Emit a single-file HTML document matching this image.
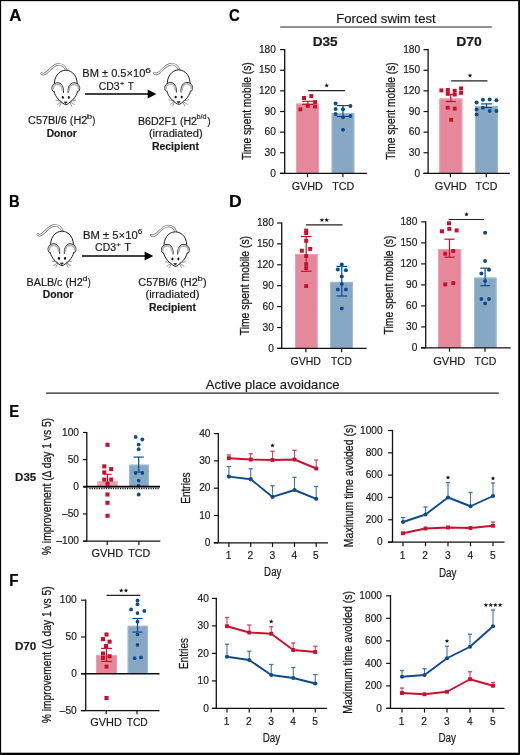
<!DOCTYPE html>
<html><head><meta charset="utf-8"><style>
html,body{margin:0;padding:0;background:#fff;}
body{width:520px;height:755px;overflow:hidden;position:relative;font-family:"Liberation Sans", sans-serif;}
svg{display:block;position:absolute;left:0;top:0;will-change:transform;}
.frame{position:absolute;left:0;top:0;width:520px;height:755px;box-sizing:border-box;border-top:1px solid #000;border-left:1px solid #000;border-right:2px solid #000;border-bottom:2px solid #000;}
</style></head><body>
<svg width="520" height="755" viewBox="0 0 520 755" font-family='"Liberation Sans", sans-serif'>
<rect width="520" height="755" fill="#fff"/>
<text x="9.18" y="20.9" font-size="15.8" font-weight="bold" textLength="12.16" lengthAdjust="spacingAndGlyphs" fill="#000" stroke="#000" stroke-width="0.18">A</text>
<text x="9.11" y="207" font-size="15.8" font-weight="bold" textLength="10.66" lengthAdjust="spacingAndGlyphs" fill="#000" stroke="#000" stroke-width="0.18">B</text>
<text x="228.89" y="21.4" font-size="15.8" font-weight="bold" textLength="10.82" lengthAdjust="spacingAndGlyphs" fill="#000" stroke="#000" stroke-width="0.18">C</text>
<text x="228.92" y="207" font-size="15.8" font-weight="bold" textLength="12.72" lengthAdjust="spacingAndGlyphs" fill="#000" stroke="#000" stroke-width="0.18">D</text>
<text x="9.31" y="416.7" font-size="15.8" font-weight="bold" textLength="9.87" lengthAdjust="spacingAndGlyphs" fill="#000" stroke="#000" stroke-width="0.18">E</text>
<text x="9.28" y="585.9" font-size="15.8" font-weight="bold" textLength="9.27" lengthAdjust="spacingAndGlyphs" fill="#000" stroke="#000" stroke-width="0.18">F</text>
<g transform="translate(65.8,105)" fill="none" stroke-linejoin="round" stroke-linecap="round">
<path d="M -24.3,-31.6 C -23.2,-30.4 -21.2,-30.6 -19,-32.6 C -15.5,-35.8 -12.5,-39.8 -8,-40.5 C -4.5,-41 -1.2,-38.6 0.5,-35" stroke="#6e6e6e" stroke-width="2.4"/>
<path d="M -24.3,-31.6 C -23.2,-30.4 -21.2,-30.6 -19,-32.6 C -15.5,-35.8 -12.5,-39.8 -8,-40.5 C -4.5,-41 -1.2,-38.6 0.5,-35" stroke="#f8f8f8" stroke-width="1.1"/>
<path d="M -11.2,-19 C -12.6,-27.5 -7,-34.8 0,-34.8 C 7,-34.8 12.6,-27.5 11.2,-19" fill="#fff" stroke="#1e1e1e" stroke-width="1"/>
<path d="M -11.8,-13.5 C -10.4,-7.6 -5.6,-3.4 -1.3,-0.7 Q 0,0.3 1.3,-0.7 C 5.6,-3.4 10.4,-7.6 11.8,-13.5 L 8,-20 L -8,-20 Z" fill="#fff" stroke="none"/>
<path d="M -11.8,-13.5 C -10.4,-7.6 -5.6,-3.4 -1.3,-0.7 Q 0,0.3 1.3,-0.7 C 5.6,-3.4 10.4,-7.6 11.8,-13.5" stroke="#1e1e1e" stroke-width="1"/>
<path d="M -2.3,-12.6 C -1.9,-18.5 -4.6,-22.2 -8,-22.2 C -11.8,-22.2 -14.2,-19.4 -13.9,-16.2 C -13.7,-14.4 -12.8,-13.4 -11.8,-13.5" fill="#fff" stroke="#1e1e1e" stroke-width="1"/>
<path d="M -3.3,-14.6 C -3.5,-18.6 -5.8,-20.7 -8.2,-20.7 C -11,-20.7 -12.9,-18.7 -12.8,-16.2" stroke="#b4b4b4" stroke-width="1.7"/>
<ellipse cx="-3" cy="-7.6" rx="1.05" ry="1.45" fill="#111" stroke="none"/>
<path d="M -4.6,-3.8 L -9.8,-4.8" stroke="#555" stroke-width="0.6"/>
<path d="M -4.6,-3 L -8.6,-0.4" stroke="#555" stroke-width="0.6"/>
<path d="M -4.2,-2.4 L -6.2,1.3" stroke="#555" stroke-width="0.6"/>
<path d="M 2.3,-12.6 C 1.9,-18.5 4.6,-22.2 8,-22.2 C 11.8,-22.2 14.2,-19.4 13.9,-16.2 C 13.7,-14.4 12.8,-13.4 11.8,-13.5" fill="#fff" stroke="#1e1e1e" stroke-width="1"/>
<path d="M 3.3,-14.6 C 3.5,-18.6 5.8,-20.7 8.2,-20.7 C 11,-20.7 12.9,-18.7 12.8,-16.2" stroke="#b4b4b4" stroke-width="1.7"/>
<ellipse cx="3" cy="-7.6" rx="1.05" ry="1.45" fill="#111" stroke="none"/>
<path d="M 4.6,-3.8 L 9.8,-4.8" stroke="#555" stroke-width="0.6"/>
<path d="M 4.6,-3 L 8.6,-0.4" stroke="#555" stroke-width="0.6"/>
<path d="M 4.2,-2.4 L 6.2,1.3" stroke="#555" stroke-width="0.6"/>
<path d="M -1.3,-3.1 L 1.3,-3.1 L 0,-1.5 Z" fill="#111" stroke="#111" stroke-width="0.6"/>
</g>
<g transform="translate(178.7,104.7)" fill="none" stroke-linejoin="round" stroke-linecap="round">
<path d="M -24.3,-31.6 C -23.2,-30.4 -21.2,-30.6 -19,-32.6 C -15.5,-35.8 -12.5,-39.8 -8,-40.5 C -4.5,-41 -1.2,-38.6 0.5,-35" stroke="#6e6e6e" stroke-width="2.4"/>
<path d="M -24.3,-31.6 C -23.2,-30.4 -21.2,-30.6 -19,-32.6 C -15.5,-35.8 -12.5,-39.8 -8,-40.5 C -4.5,-41 -1.2,-38.6 0.5,-35" stroke="#f8f8f8" stroke-width="1.1"/>
<path d="M -11.2,-19 C -12.6,-27.5 -7,-34.8 0,-34.8 C 7,-34.8 12.6,-27.5 11.2,-19" fill="#fff" stroke="#1e1e1e" stroke-width="1"/>
<path d="M -11.8,-13.5 C -10.4,-7.6 -5.6,-3.4 -1.3,-0.7 Q 0,0.3 1.3,-0.7 C 5.6,-3.4 10.4,-7.6 11.8,-13.5 L 8,-20 L -8,-20 Z" fill="#fff" stroke="none"/>
<path d="M -11.8,-13.5 C -10.4,-7.6 -5.6,-3.4 -1.3,-0.7 Q 0,0.3 1.3,-0.7 C 5.6,-3.4 10.4,-7.6 11.8,-13.5" stroke="#1e1e1e" stroke-width="1"/>
<path d="M -2.3,-12.6 C -1.9,-18.5 -4.6,-22.2 -8,-22.2 C -11.8,-22.2 -14.2,-19.4 -13.9,-16.2 C -13.7,-14.4 -12.8,-13.4 -11.8,-13.5" fill="#fff" stroke="#1e1e1e" stroke-width="1"/>
<path d="M -3.3,-14.6 C -3.5,-18.6 -5.8,-20.7 -8.2,-20.7 C -11,-20.7 -12.9,-18.7 -12.8,-16.2" stroke="#b4b4b4" stroke-width="1.7"/>
<ellipse cx="-3" cy="-7.6" rx="1.05" ry="1.45" fill="#111" stroke="none"/>
<path d="M -4.6,-3.8 L -9.8,-4.8" stroke="#555" stroke-width="0.6"/>
<path d="M -4.6,-3 L -8.6,-0.4" stroke="#555" stroke-width="0.6"/>
<path d="M -4.2,-2.4 L -6.2,1.3" stroke="#555" stroke-width="0.6"/>
<path d="M 2.3,-12.6 C 1.9,-18.5 4.6,-22.2 8,-22.2 C 11.8,-22.2 14.2,-19.4 13.9,-16.2 C 13.7,-14.4 12.8,-13.4 11.8,-13.5" fill="#fff" stroke="#1e1e1e" stroke-width="1"/>
<path d="M 3.3,-14.6 C 3.5,-18.6 5.8,-20.7 8.2,-20.7 C 11,-20.7 12.9,-18.7 12.8,-16.2" stroke="#b4b4b4" stroke-width="1.7"/>
<ellipse cx="3" cy="-7.6" rx="1.05" ry="1.45" fill="#111" stroke="none"/>
<path d="M 4.6,-3.8 L 9.8,-4.8" stroke="#555" stroke-width="0.6"/>
<path d="M 4.6,-3 L 8.6,-0.4" stroke="#555" stroke-width="0.6"/>
<path d="M 4.2,-2.4 L 6.2,1.3" stroke="#555" stroke-width="0.6"/>
<path d="M -1.3,-3.1 L 1.3,-3.1 L 0,-1.5 Z" fill="#111" stroke="#111" stroke-width="0.6"/>
</g>
<g transform="translate(62,266)" fill="none" stroke-linejoin="round" stroke-linecap="round">
<path d="M -24.3,-31.6 C -23.2,-30.4 -21.2,-30.6 -19,-32.6 C -15.5,-35.8 -12.5,-39.8 -8,-40.5 C -4.5,-41 -1.2,-38.6 0.5,-35" stroke="#6e6e6e" stroke-width="2.4"/>
<path d="M -24.3,-31.6 C -23.2,-30.4 -21.2,-30.6 -19,-32.6 C -15.5,-35.8 -12.5,-39.8 -8,-40.5 C -4.5,-41 -1.2,-38.6 0.5,-35" stroke="#f8f8f8" stroke-width="1.1"/>
<path d="M -11.2,-19 C -12.6,-27.5 -7,-34.8 0,-34.8 C 7,-34.8 12.6,-27.5 11.2,-19" fill="#fff" stroke="#1e1e1e" stroke-width="1"/>
<path d="M -11.8,-13.5 C -10.4,-7.6 -5.6,-3.4 -1.3,-0.7 Q 0,0.3 1.3,-0.7 C 5.6,-3.4 10.4,-7.6 11.8,-13.5 L 8,-20 L -8,-20 Z" fill="#fff" stroke="none"/>
<path d="M -11.8,-13.5 C -10.4,-7.6 -5.6,-3.4 -1.3,-0.7 Q 0,0.3 1.3,-0.7 C 5.6,-3.4 10.4,-7.6 11.8,-13.5" stroke="#1e1e1e" stroke-width="1"/>
<path d="M -2.3,-12.6 C -1.9,-18.5 -4.6,-22.2 -8,-22.2 C -11.8,-22.2 -14.2,-19.4 -13.9,-16.2 C -13.7,-14.4 -12.8,-13.4 -11.8,-13.5" fill="#fff" stroke="#1e1e1e" stroke-width="1"/>
<path d="M -3.3,-14.6 C -3.5,-18.6 -5.8,-20.7 -8.2,-20.7 C -11,-20.7 -12.9,-18.7 -12.8,-16.2" stroke="#b4b4b4" stroke-width="1.7"/>
<ellipse cx="-3" cy="-7.6" rx="1.05" ry="1.45" fill="#111" stroke="none"/>
<path d="M -4.6,-3.8 L -9.8,-4.8" stroke="#555" stroke-width="0.6"/>
<path d="M -4.6,-3 L -8.6,-0.4" stroke="#555" stroke-width="0.6"/>
<path d="M -4.2,-2.4 L -6.2,1.3" stroke="#555" stroke-width="0.6"/>
<path d="M 2.3,-12.6 C 1.9,-18.5 4.6,-22.2 8,-22.2 C 11.8,-22.2 14.2,-19.4 13.9,-16.2 C 13.7,-14.4 12.8,-13.4 11.8,-13.5" fill="#fff" stroke="#1e1e1e" stroke-width="1"/>
<path d="M 3.3,-14.6 C 3.5,-18.6 5.8,-20.7 8.2,-20.7 C 11,-20.7 12.9,-18.7 12.8,-16.2" stroke="#b4b4b4" stroke-width="1.7"/>
<ellipse cx="3" cy="-7.6" rx="1.05" ry="1.45" fill="#111" stroke="none"/>
<path d="M 4.6,-3.8 L 9.8,-4.8" stroke="#555" stroke-width="0.6"/>
<path d="M 4.6,-3 L 8.6,-0.4" stroke="#555" stroke-width="0.6"/>
<path d="M 4.2,-2.4 L 6.2,1.3" stroke="#555" stroke-width="0.6"/>
<path d="M -1.3,-3.1 L 1.3,-3.1 L 0,-1.5 Z" fill="#111" stroke="#111" stroke-width="0.6"/>
</g>
<g transform="translate(175.4,266.6)" fill="none" stroke-linejoin="round" stroke-linecap="round">
<path d="M -24.3,-31.6 C -23.2,-30.4 -21.2,-30.6 -19,-32.6 C -15.5,-35.8 -12.5,-39.8 -8,-40.5 C -4.5,-41 -1.2,-38.6 0.5,-35" stroke="#6e6e6e" stroke-width="2.4"/>
<path d="M -24.3,-31.6 C -23.2,-30.4 -21.2,-30.6 -19,-32.6 C -15.5,-35.8 -12.5,-39.8 -8,-40.5 C -4.5,-41 -1.2,-38.6 0.5,-35" stroke="#f8f8f8" stroke-width="1.1"/>
<path d="M -11.2,-19 C -12.6,-27.5 -7,-34.8 0,-34.8 C 7,-34.8 12.6,-27.5 11.2,-19" fill="#fff" stroke="#1e1e1e" stroke-width="1"/>
<path d="M -11.8,-13.5 C -10.4,-7.6 -5.6,-3.4 -1.3,-0.7 Q 0,0.3 1.3,-0.7 C 5.6,-3.4 10.4,-7.6 11.8,-13.5 L 8,-20 L -8,-20 Z" fill="#fff" stroke="none"/>
<path d="M -11.8,-13.5 C -10.4,-7.6 -5.6,-3.4 -1.3,-0.7 Q 0,0.3 1.3,-0.7 C 5.6,-3.4 10.4,-7.6 11.8,-13.5" stroke="#1e1e1e" stroke-width="1"/>
<path d="M -2.3,-12.6 C -1.9,-18.5 -4.6,-22.2 -8,-22.2 C -11.8,-22.2 -14.2,-19.4 -13.9,-16.2 C -13.7,-14.4 -12.8,-13.4 -11.8,-13.5" fill="#fff" stroke="#1e1e1e" stroke-width="1"/>
<path d="M -3.3,-14.6 C -3.5,-18.6 -5.8,-20.7 -8.2,-20.7 C -11,-20.7 -12.9,-18.7 -12.8,-16.2" stroke="#b4b4b4" stroke-width="1.7"/>
<ellipse cx="-3" cy="-7.6" rx="1.05" ry="1.45" fill="#111" stroke="none"/>
<path d="M -4.6,-3.8 L -9.8,-4.8" stroke="#555" stroke-width="0.6"/>
<path d="M -4.6,-3 L -8.6,-0.4" stroke="#555" stroke-width="0.6"/>
<path d="M -4.2,-2.4 L -6.2,1.3" stroke="#555" stroke-width="0.6"/>
<path d="M 2.3,-12.6 C 1.9,-18.5 4.6,-22.2 8,-22.2 C 11.8,-22.2 14.2,-19.4 13.9,-16.2 C 13.7,-14.4 12.8,-13.4 11.8,-13.5" fill="#fff" stroke="#1e1e1e" stroke-width="1"/>
<path d="M 3.3,-14.6 C 3.5,-18.6 5.8,-20.7 8.2,-20.7 C 11,-20.7 12.9,-18.7 12.8,-16.2" stroke="#b4b4b4" stroke-width="1.7"/>
<ellipse cx="3" cy="-7.6" rx="1.05" ry="1.45" fill="#111" stroke="none"/>
<path d="M 4.6,-3.8 L 9.8,-4.8" stroke="#555" stroke-width="0.6"/>
<path d="M 4.6,-3 L 8.6,-0.4" stroke="#555" stroke-width="0.6"/>
<path d="M 4.2,-2.4 L 6.2,1.3" stroke="#555" stroke-width="0.6"/>
<path d="M -1.3,-3.1 L 1.3,-3.1 L 0,-1.5 Z" fill="#111" stroke="#111" stroke-width="0.6"/>
</g>
<text x="82.29" y="77.3" font-size="10.3" textLength="63.04" lengthAdjust="spacingAndGlyphs" fill="#1a1a1a" stroke="#1a1a1a" stroke-width="0.18">BM ± 0.5×10</text>
<text x="145.18" y="72.9" font-size="6.3" textLength="5.66" lengthAdjust="spacingAndGlyphs" fill="#1a1a1a" stroke="#1a1a1a" stroke-width="0.18">6</text>
<text x="98.67" y="89.7" font-size="10.7" textLength="20.99" lengthAdjust="spacingAndGlyphs" fill="#1a1a1a" stroke="#1a1a1a" stroke-width="0.18">CD3</text>
<line x1="120.1" y1="83.4" x2="124" y2="83.4" stroke="#1a1a1a" stroke-width="0.8"/>
<line x1="122.05" y1="81.9" x2="122.05" y2="84.9" stroke="#1a1a1a" stroke-width="0.8"/>
<text x="128.09" y="89.7" font-size="10.7" textLength="5.62" lengthAdjust="spacingAndGlyphs" fill="#1a1a1a" stroke="#1a1a1a" stroke-width="0.18">T</text>
<line x1="85" y1="94" x2="148.2" y2="94" stroke="#000" stroke-width="1.5"/>
<path d="M 147.7,89.5 L 156.3,94 L 147.7,98.5 Z" fill="#000"/>
<text x="28.05" y="123.8" font-size="10" textLength="59.3" lengthAdjust="spacingAndGlyphs" fill="#1a1a1a" stroke="#1a1a1a" stroke-width="0.18">C57Bl/6 (H2</text>
<text x="86.67" y="119.2" font-size="7.8" textLength="5.44" lengthAdjust="spacingAndGlyphs" fill="#1a1a1a" stroke="#1a1a1a" stroke-width="0.18">b</text>
<text x="92.24" y="123.8" font-size="10" textLength="3.14" lengthAdjust="spacingAndGlyphs" fill="#1a1a1a" stroke="#1a1a1a" stroke-width="0.18">)</text>
<text x="46.72" y="136.5" font-size="10" font-weight="bold" textLength="30.14" lengthAdjust="spacingAndGlyphs" fill="#1a1a1a" stroke="#1a1a1a" stroke-width="0.18">Donor</text>
<text x="137.93" y="124.6" font-size="10" textLength="59.11" lengthAdjust="spacingAndGlyphs" fill="#1a1a1a" stroke="#1a1a1a" stroke-width="0.18">B6D2F1 (H2</text>
<text x="196.53" y="119.4" font-size="7.8" textLength="10.03" lengthAdjust="spacingAndGlyphs" fill="#1a1a1a" stroke="#1a1a1a" stroke-width="0.18">b/d</text>
<text x="207.24" y="124.6" font-size="10" textLength="3.39" lengthAdjust="spacingAndGlyphs" fill="#1a1a1a" stroke="#1a1a1a" stroke-width="0.18">)</text>
<text x="148.91" y="136.8" font-size="10" textLength="53.68" lengthAdjust="spacingAndGlyphs" fill="#1a1a1a" stroke="#1a1a1a" stroke-width="0.18">(irradiated)</text>
<text x="152" y="149.7" font-size="10" font-weight="bold" textLength="46.92" lengthAdjust="spacingAndGlyphs" fill="#1a1a1a" stroke="#1a1a1a" stroke-width="0.18">Recipient</text>
<text x="83.08" y="238.6" font-size="10.3" textLength="54.61" lengthAdjust="spacingAndGlyphs" fill="#1a1a1a" stroke="#1a1a1a" stroke-width="0.18">BM ± 5×10</text>
<text x="137.68" y="234.3" font-size="6.3" textLength="4.58" lengthAdjust="spacingAndGlyphs" fill="#1a1a1a" stroke="#1a1a1a" stroke-width="0.18">6</text>
<text x="95.07" y="251.1" font-size="10.7" textLength="20.99" lengthAdjust="spacingAndGlyphs" fill="#1a1a1a" stroke="#1a1a1a" stroke-width="0.18">CD3</text>
<line x1="116.5" y1="244.8" x2="120.6" y2="244.8" stroke="#1a1a1a" stroke-width="0.8"/>
<line x1="118.55" y1="243.3" x2="118.55" y2="246.3" stroke="#1a1a1a" stroke-width="0.8"/>
<text x="124.15" y="251.1" font-size="10.7" textLength="6.7" lengthAdjust="spacingAndGlyphs" fill="#1a1a1a" stroke="#1a1a1a" stroke-width="0.18">T</text>
<line x1="81.9" y1="256" x2="145.1" y2="256" stroke="#000" stroke-width="1.5"/>
<path d="M 144.6,251.5 L 153.2,256 L 144.6,260.5 Z" fill="#000"/>
<text x="26.62" y="285.5" font-size="10" textLength="56.22" lengthAdjust="spacingAndGlyphs" fill="#1a1a1a" stroke="#1a1a1a" stroke-width="0.18">BALB/c (H2</text>
<text x="82.53" y="281" font-size="7.8" textLength="4.95" lengthAdjust="spacingAndGlyphs" fill="#1a1a1a" stroke="#1a1a1a" stroke-width="0.18">d</text>
<text x="87.65" y="285.5" font-size="10" textLength="3.01" lengthAdjust="spacingAndGlyphs" fill="#1a1a1a" stroke="#1a1a1a" stroke-width="0.18">)</text>
<text x="42.7" y="298.2" font-size="10" font-weight="bold" textLength="30.65" lengthAdjust="spacingAndGlyphs" fill="#1a1a1a" stroke="#1a1a1a" stroke-width="0.18">Donor</text>
<text x="138.24" y="285.8" font-size="10" textLength="59.61" lengthAdjust="spacingAndGlyphs" fill="#1a1a1a" stroke="#1a1a1a" stroke-width="0.18">C57Bl/6 (H2</text>
<text x="197.48" y="280.8" font-size="7.8" textLength="5.32" lengthAdjust="spacingAndGlyphs" fill="#1a1a1a" stroke="#1a1a1a" stroke-width="0.18">b</text>
<text x="203.14" y="285.8" font-size="10" textLength="3.64" lengthAdjust="spacingAndGlyphs" fill="#1a1a1a" stroke="#1a1a1a" stroke-width="0.18">)</text>
<text x="145.41" y="298.4" font-size="10" textLength="54.09" lengthAdjust="spacingAndGlyphs" fill="#1a1a1a" stroke="#1a1a1a" stroke-width="0.18">(irradiated)</text>
<text x="148.9" y="311.2" font-size="10" font-weight="bold" textLength="47.03" lengthAdjust="spacingAndGlyphs" fill="#1a1a1a" stroke="#1a1a1a" stroke-width="0.18">Recipient</text>
<text x="336.22" y="22.5" font-size="12.6" textLength="99.48" lengthAdjust="spacingAndGlyphs" fill="#1a1a1a" stroke="#1a1a1a" stroke-width="0.18">Forced swim test</text>
<line x1="280.2" y1="27" x2="491.7" y2="27" stroke="#222" stroke-width="1.2"/>
<text x="312.69" y="45.8" font-size="12.8" font-weight="bold" textLength="24.88" lengthAdjust="spacingAndGlyphs" fill="#1a1a1a" stroke="#1a1a1a" stroke-width="0.18">D35</text>
<rect x="296" y="103.6" width="23" height="69.8" fill="#e4889a"/>
<path d="M 296.5,173.4 V 104.1 H 318.5 V 173.4" fill="none" stroke="#eba2b0" stroke-width="1"/>
<rect x="331.7" y="113.2" width="22.6" height="60.2" fill="#87a8c5"/>
<path d="M 332.2,173.4 V 113.7 H 353.8 V 173.4" fill="none" stroke="#9fb9d2" stroke-width="1"/>
<line x1="284.7" y1="49.02" x2="284.7" y2="173.4" stroke="#111" stroke-width="1.3"/>
<line x1="280.1" y1="173.4" x2="284.7" y2="173.4" stroke="#111" stroke-width="1.2"/>
<text x="270.23" y="176.6" font-size="10.5" textLength="5.66" lengthAdjust="spacingAndGlyphs" fill="#1a1a1a" stroke="#1a1a1a" stroke-width="0.18">0</text>
<line x1="280.1" y1="152.77" x2="284.7" y2="152.77" stroke="#111" stroke-width="1.2"/>
<text x="264.57" y="155.97" font-size="10.5" textLength="11.33" lengthAdjust="spacingAndGlyphs" fill="#1a1a1a" stroke="#1a1a1a" stroke-width="0.18">30</text>
<line x1="280.1" y1="132.14" x2="284.7" y2="132.14" stroke="#111" stroke-width="1.2"/>
<text x="264.57" y="135.34" font-size="10.5" textLength="11.33" lengthAdjust="spacingAndGlyphs" fill="#1a1a1a" stroke="#1a1a1a" stroke-width="0.18">60</text>
<line x1="280.1" y1="111.51" x2="284.7" y2="111.51" stroke="#111" stroke-width="1.2"/>
<text x="264.57" y="114.71" font-size="10.5" textLength="11.33" lengthAdjust="spacingAndGlyphs" fill="#1a1a1a" stroke="#1a1a1a" stroke-width="0.18">90</text>
<line x1="280.1" y1="90.88" x2="284.7" y2="90.88" stroke="#111" stroke-width="1.2"/>
<text x="258.9" y="94.08" font-size="10.5" textLength="16.99" lengthAdjust="spacingAndGlyphs" fill="#1a1a1a" stroke="#1a1a1a" stroke-width="0.18">120</text>
<line x1="280.1" y1="70.25" x2="284.7" y2="70.25" stroke="#111" stroke-width="1.2"/>
<text x="258.9" y="73.45" font-size="10.5" textLength="16.99" lengthAdjust="spacingAndGlyphs" fill="#1a1a1a" stroke="#1a1a1a" stroke-width="0.18">150</text>
<line x1="280.1" y1="49.62" x2="284.7" y2="49.62" stroke="#111" stroke-width="1.2"/>
<text x="258.9" y="52.82" font-size="10.5" textLength="16.99" lengthAdjust="spacingAndGlyphs" fill="#1a1a1a" stroke="#1a1a1a" stroke-width="0.18">180</text>
<line x1="280.1" y1="173.4" x2="366.9" y2="173.4" stroke="#111" stroke-width="1.3"/>
<line x1="307.5" y1="173.4" x2="307.5" y2="177.2" stroke="#111" stroke-width="1.2"/>
<line x1="342.9" y1="173.4" x2="342.9" y2="177.2" stroke="#111" stroke-width="1.2"/>
<text transform="translate(251.1,159.9) rotate(-90)" x="-0.23" y="0" font-size="13.2" textLength="97.76" lengthAdjust="spacingAndGlyphs" fill="#1a1a1a" stroke="#1a1a1a" stroke-width="0.28">Time spent mobile (s)</text>
<text x="291.76" y="189.5" font-size="10.7" textLength="31.05" lengthAdjust="spacingAndGlyphs" fill="#1a1a1a" stroke="#1a1a1a" stroke-width="0.18">GVHD</text>
<text x="332.16" y="189.5" font-size="10.7" textLength="22.05" lengthAdjust="spacingAndGlyphs" fill="#1a1a1a" stroke="#1a1a1a" stroke-width="0.18">TCD</text>
<line x1="308.2" y1="90.6" x2="344.9" y2="90.6" stroke="#222" stroke-width="1.2"/>
<polygon points="326.7,83.2 327.29,84.78 328.98,84.86 327.66,85.91 328.11,87.54 326.7,86.61 325.29,87.54 325.74,85.91 324.42,84.86 326.11,84.78" fill="#111"/>
<rect x="302" y="96" width="4" height="4" fill="#c8102e" stroke="rgba(255,255,255,0.2)" stroke-width="0.8" paint-order="stroke"/>
<rect x="309.3" y="94.1" width="4" height="4" fill="#c8102e" stroke="rgba(255,255,255,0.2)" stroke-width="0.8" paint-order="stroke"/>
<rect x="298.4" y="107.4" width="4" height="4" fill="#c8102e" stroke="rgba(255,255,255,0.2)" stroke-width="0.8" paint-order="stroke"/>
<rect x="305.8" y="103.8" width="4" height="4" fill="#c8102e" stroke="rgba(255,255,255,0.2)" stroke-width="0.8" paint-order="stroke"/>
<rect x="313.1" y="100.1" width="4" height="4" fill="#c8102e" stroke="rgba(255,255,255,0.2)" stroke-width="0.8" paint-order="stroke"/>
<rect x="313.1" y="104.5" width="4" height="4" fill="#c8102e" stroke="rgba(255,255,255,0.2)" stroke-width="0.8" paint-order="stroke"/>
<line x1="307.8" y1="101.3" x2="307.8" y2="104.4" stroke="#c8102e" stroke-width="1.2"/>
<line x1="302.2" y1="101.3" x2="313.4" y2="101.3" stroke="#c8102e" stroke-width="1.2"/>
<line x1="302.2" y1="104.4" x2="313.4" y2="104.4" stroke="#c8102e" stroke-width="1.2"/>
<line x1="343" y1="105.6" x2="343" y2="116.5" stroke="#0d4a8a" stroke-width="1.2"/>
<line x1="336.8" y1="105.6" x2="349.2" y2="105.6" stroke="#0d4a8a" stroke-width="1.2"/>
<line x1="336.8" y1="116.5" x2="349.2" y2="116.5" stroke="#0d4a8a" stroke-width="1.2"/>
<circle cx="335.6" cy="103.4" r="2" fill="#0d4a8a" stroke="rgba(255,255,255,0.2)" stroke-width="0.8" paint-order="stroke"/>
<circle cx="350.4" cy="105.9" r="2" fill="#0d4a8a" stroke="rgba(255,255,255,0.2)" stroke-width="0.8" paint-order="stroke"/>
<circle cx="335.6" cy="109.1" r="2" fill="#0d4a8a" stroke="rgba(255,255,255,0.2)" stroke-width="0.8" paint-order="stroke"/>
<circle cx="343" cy="109.3" r="2" fill="#0d4a8a" stroke="rgba(255,255,255,0.2)" stroke-width="0.8" paint-order="stroke"/>
<circle cx="335.6" cy="114" r="2" fill="#0d4a8a" stroke="rgba(255,255,255,0.2)" stroke-width="0.8" paint-order="stroke"/>
<circle cx="350.4" cy="115.9" r="2" fill="#0d4a8a" stroke="rgba(255,255,255,0.2)" stroke-width="0.8" paint-order="stroke"/>
<circle cx="343" cy="117.2" r="2" fill="#0d4a8a" stroke="rgba(255,255,255,0.2)" stroke-width="0.8" paint-order="stroke"/>
<circle cx="343" cy="129.7" r="2" fill="#0d4a8a" stroke="rgba(255,255,255,0.2)" stroke-width="0.8" paint-order="stroke"/>
<text x="456.17" y="46" font-size="12.8" font-weight="bold" textLength="25.61" lengthAdjust="spacingAndGlyphs" fill="#1a1a1a" stroke="#1a1a1a" stroke-width="0.18">D70</text>
<rect x="439.4" y="98.5" width="22.9" height="74.9" fill="#e4889a"/>
<path d="M 439.9,173.4 V 99 H 461.8 V 173.4" fill="none" stroke="#eba2b0" stroke-width="1"/>
<rect x="475" y="106.2" width="22.9" height="67.2" fill="#87a8c5"/>
<path d="M 475.5,173.4 V 106.7 H 497.4 V 173.4" fill="none" stroke="#9fb9d2" stroke-width="1"/>
<line x1="428.1" y1="49.02" x2="428.1" y2="173.4" stroke="#111" stroke-width="1.3"/>
<line x1="423.5" y1="173.4" x2="428.1" y2="173.4" stroke="#111" stroke-width="1.2"/>
<text x="414.53" y="176.6" font-size="10.5" textLength="5.66" lengthAdjust="spacingAndGlyphs" fill="#1a1a1a" stroke="#1a1a1a" stroke-width="0.18">0</text>
<line x1="423.5" y1="152.77" x2="428.1" y2="152.77" stroke="#111" stroke-width="1.2"/>
<text x="408.87" y="155.97" font-size="10.5" textLength="11.33" lengthAdjust="spacingAndGlyphs" fill="#1a1a1a" stroke="#1a1a1a" stroke-width="0.18">30</text>
<line x1="423.5" y1="132.14" x2="428.1" y2="132.14" stroke="#111" stroke-width="1.2"/>
<text x="408.87" y="135.34" font-size="10.5" textLength="11.33" lengthAdjust="spacingAndGlyphs" fill="#1a1a1a" stroke="#1a1a1a" stroke-width="0.18">60</text>
<line x1="423.5" y1="111.51" x2="428.1" y2="111.51" stroke="#111" stroke-width="1.2"/>
<text x="408.87" y="114.71" font-size="10.5" textLength="11.33" lengthAdjust="spacingAndGlyphs" fill="#1a1a1a" stroke="#1a1a1a" stroke-width="0.18">90</text>
<line x1="423.5" y1="90.88" x2="428.1" y2="90.88" stroke="#111" stroke-width="1.2"/>
<text x="403.2" y="94.08" font-size="10.5" textLength="16.99" lengthAdjust="spacingAndGlyphs" fill="#1a1a1a" stroke="#1a1a1a" stroke-width="0.18">120</text>
<line x1="423.5" y1="70.25" x2="428.1" y2="70.25" stroke="#111" stroke-width="1.2"/>
<text x="403.2" y="73.45" font-size="10.5" textLength="16.99" lengthAdjust="spacingAndGlyphs" fill="#1a1a1a" stroke="#1a1a1a" stroke-width="0.18">150</text>
<line x1="423.5" y1="49.62" x2="428.1" y2="49.62" stroke="#111" stroke-width="1.2"/>
<text x="403.2" y="52.82" font-size="10.5" textLength="16.99" lengthAdjust="spacingAndGlyphs" fill="#1a1a1a" stroke="#1a1a1a" stroke-width="0.18">180</text>
<line x1="423.5" y1="173.4" x2="509.8" y2="173.4" stroke="#111" stroke-width="1.3"/>
<line x1="450.4" y1="173.4" x2="450.4" y2="177.2" stroke="#111" stroke-width="1.2"/>
<line x1="486.3" y1="173.4" x2="486.3" y2="177.2" stroke="#111" stroke-width="1.2"/>
<text transform="translate(394.8,159.6) rotate(-90)" x="-0.23" y="0" font-size="13.2" textLength="97.56" lengthAdjust="spacingAndGlyphs" fill="#1a1a1a" stroke="#1a1a1a" stroke-width="0.28">Time spent mobile (s)</text>
<text x="434.84" y="189.5" font-size="10.7" textLength="31.88" lengthAdjust="spacingAndGlyphs" fill="#1a1a1a" stroke="#1a1a1a" stroke-width="0.18">GVHD</text>
<text x="475.56" y="189.5" font-size="10.7" textLength="21.85" lengthAdjust="spacingAndGlyphs" fill="#1a1a1a" stroke="#1a1a1a" stroke-width="0.18">TCD</text>
<line x1="451.2" y1="80.8" x2="487.5" y2="80.8" stroke="#222" stroke-width="1.2"/>
<polygon points="470,73.2 470.59,74.78 472.28,74.86 470.96,75.91 471.41,77.54 470,76.61 468.59,77.54 469.04,75.91 467.72,74.86 469.41,74.78" fill="#111"/>
<rect x="439.4" y="88.4" width="4" height="4" fill="#c8102e" stroke="rgba(255,255,255,0.2)" stroke-width="0.8" paint-order="stroke"/>
<rect x="445.8" y="88" width="4" height="4" fill="#c8102e" stroke="rgba(255,255,255,0.2)" stroke-width="0.8" paint-order="stroke"/>
<rect x="445.8" y="91.8" width="4" height="4" fill="#c8102e" stroke="rgba(255,255,255,0.2)" stroke-width="0.8" paint-order="stroke"/>
<rect x="452.7" y="88.8" width="4" height="4" fill="#c8102e" stroke="rgba(255,255,255,0.2)" stroke-width="0.8" paint-order="stroke"/>
<rect x="452.7" y="92.5" width="4" height="4" fill="#c8102e" stroke="rgba(255,255,255,0.2)" stroke-width="0.8" paint-order="stroke"/>
<rect x="459.1" y="86.4" width="4" height="4" fill="#c8102e" stroke="rgba(255,255,255,0.2)" stroke-width="0.8" paint-order="stroke"/>
<rect x="459.1" y="90.8" width="4" height="4" fill="#c8102e" stroke="rgba(255,255,255,0.2)" stroke-width="0.8" paint-order="stroke"/>
<rect x="445.7" y="105.7" width="4" height="4" fill="#c8102e" stroke="rgba(255,255,255,0.2)" stroke-width="0.8" paint-order="stroke"/>
<rect x="452.7" y="106.6" width="4" height="4" fill="#c8102e" stroke="rgba(255,255,255,0.2)" stroke-width="0.8" paint-order="stroke"/>
<rect x="449.2" y="117.8" width="4" height="4" fill="#c8102e" stroke="rgba(255,255,255,0.2)" stroke-width="0.8" paint-order="stroke"/>
<line x1="450.8" y1="94.5" x2="450.8" y2="101.5" stroke="#c8102e" stroke-width="1.2"/>
<line x1="445.8" y1="94.5" x2="455.8" y2="94.5" stroke="#c8102e" stroke-width="1.2"/>
<line x1="445.8" y1="101.5" x2="455.8" y2="101.5" stroke="#c8102e" stroke-width="1.2"/>
<line x1="486.5" y1="103.9" x2="486.5" y2="107.6" stroke="#0d4a8a" stroke-width="1.2"/>
<line x1="481.1" y1="103.9" x2="491.9" y2="103.9" stroke="#0d4a8a" stroke-width="1.2"/>
<line x1="481.1" y1="107.6" x2="491.9" y2="107.6" stroke="#0d4a8a" stroke-width="1.2"/>
<circle cx="476.6" cy="102.6" r="2" fill="#0d4a8a" stroke="rgba(255,255,255,0.2)" stroke-width="0.8" paint-order="stroke"/>
<circle cx="482.9" cy="99.8" r="2" fill="#0d4a8a" stroke="rgba(255,255,255,0.2)" stroke-width="0.8" paint-order="stroke"/>
<circle cx="489.7" cy="99.4" r="2" fill="#0d4a8a" stroke="rgba(255,255,255,0.2)" stroke-width="0.8" paint-order="stroke"/>
<circle cx="496.4" cy="100.2" r="2" fill="#0d4a8a" stroke="rgba(255,255,255,0.2)" stroke-width="0.8" paint-order="stroke"/>
<circle cx="476.6" cy="109.4" r="2" fill="#0d4a8a" stroke="rgba(255,255,255,0.2)" stroke-width="0.8" paint-order="stroke"/>
<circle cx="482.9" cy="107.8" r="2" fill="#0d4a8a" stroke="rgba(255,255,255,0.2)" stroke-width="0.8" paint-order="stroke"/>
<circle cx="489.7" cy="111" r="2" fill="#0d4a8a" stroke="rgba(255,255,255,0.2)" stroke-width="0.8" paint-order="stroke"/>
<circle cx="496.4" cy="111" r="2" fill="#0d4a8a" stroke="rgba(255,255,255,0.2)" stroke-width="0.8" paint-order="stroke"/>
<circle cx="476.6" cy="114.4" r="2" fill="#0d4a8a" stroke="rgba(255,255,255,0.2)" stroke-width="0.8" paint-order="stroke"/>
<rect x="295.1" y="254" width="22.5" height="94.4" fill="#e4889a"/>
<path d="M 295.6,348.4 V 254.5 H 317.1 V 348.4" fill="none" stroke="#eba2b0" stroke-width="1"/>
<rect x="330.1" y="281.9" width="22.9" height="66.5" fill="#87a8c5"/>
<path d="M 330.6,348.4 V 282.4 H 352.5 V 348.4" fill="none" stroke="#9fb9d2" stroke-width="1"/>
<line x1="281.7" y1="222.4" x2="281.7" y2="348.4" stroke="#111" stroke-width="1.3"/>
<line x1="277.1" y1="348.4" x2="281.7" y2="348.4" stroke="#111" stroke-width="1.2"/>
<text x="268.23" y="351.6" font-size="10.5" textLength="5.66" lengthAdjust="spacingAndGlyphs" fill="#1a1a1a" stroke="#1a1a1a" stroke-width="0.18">0</text>
<line x1="277.1" y1="327.5" x2="281.7" y2="327.5" stroke="#111" stroke-width="1.2"/>
<text x="262.57" y="330.7" font-size="10.5" textLength="11.33" lengthAdjust="spacingAndGlyphs" fill="#1a1a1a" stroke="#1a1a1a" stroke-width="0.18">30</text>
<line x1="277.1" y1="306.6" x2="281.7" y2="306.6" stroke="#111" stroke-width="1.2"/>
<text x="262.57" y="309.8" font-size="10.5" textLength="11.33" lengthAdjust="spacingAndGlyphs" fill="#1a1a1a" stroke="#1a1a1a" stroke-width="0.18">60</text>
<line x1="277.1" y1="285.7" x2="281.7" y2="285.7" stroke="#111" stroke-width="1.2"/>
<text x="262.57" y="288.9" font-size="10.5" textLength="11.33" lengthAdjust="spacingAndGlyphs" fill="#1a1a1a" stroke="#1a1a1a" stroke-width="0.18">90</text>
<line x1="277.1" y1="264.8" x2="281.7" y2="264.8" stroke="#111" stroke-width="1.2"/>
<text x="256.9" y="268" font-size="10.5" textLength="16.99" lengthAdjust="spacingAndGlyphs" fill="#1a1a1a" stroke="#1a1a1a" stroke-width="0.18">120</text>
<line x1="277.1" y1="243.9" x2="281.7" y2="243.9" stroke="#111" stroke-width="1.2"/>
<text x="256.9" y="247.1" font-size="10.5" textLength="16.99" lengthAdjust="spacingAndGlyphs" fill="#1a1a1a" stroke="#1a1a1a" stroke-width="0.18">150</text>
<line x1="277.1" y1="223" x2="281.7" y2="223" stroke="#111" stroke-width="1.2"/>
<text x="256.9" y="226.2" font-size="10.5" textLength="16.99" lengthAdjust="spacingAndGlyphs" fill="#1a1a1a" stroke="#1a1a1a" stroke-width="0.18">180</text>
<line x1="277.1" y1="348.4" x2="366.6" y2="348.4" stroke="#111" stroke-width="1.3"/>
<line x1="305.9" y1="348.4" x2="305.9" y2="352.2" stroke="#111" stroke-width="1.2"/>
<line x1="341.6" y1="348.4" x2="341.6" y2="352.2" stroke="#111" stroke-width="1.2"/>
<text transform="translate(248.8,335.1) rotate(-90)" x="-0.23" y="0" font-size="13.2" textLength="99.37" lengthAdjust="spacingAndGlyphs" fill="#1a1a1a" stroke="#1a1a1a" stroke-width="0.28">Time spent mobile (s)</text>
<text x="290.57" y="364.8" font-size="10.7" textLength="30.33" lengthAdjust="spacingAndGlyphs" fill="#1a1a1a" stroke="#1a1a1a" stroke-width="0.18">GVHD</text>
<text x="330.97" y="364.8" font-size="10.7" textLength="21.02" lengthAdjust="spacingAndGlyphs" fill="#1a1a1a" stroke="#1a1a1a" stroke-width="0.18">TCD</text>
<line x1="305.9" y1="224.8" x2="342.5" y2="224.8" stroke="#222" stroke-width="1.2"/>
<polygon points="321.93,217.7 322.52,219.28 324.21,219.36 322.88,220.41 323.34,222.04 321.93,221.11 320.51,222.04 320.97,220.41 319.64,219.36 321.33,219.28" fill="#111"/>
<polygon points="326.68,217.7 327.27,219.28 328.96,219.36 327.63,220.41 328.09,222.04 326.68,221.11 325.26,222.04 325.72,220.41 324.39,219.36 326.08,219.28" fill="#111"/>
<line x1="306.2" y1="236.5" x2="306.2" y2="271.3" stroke="#c8102e" stroke-width="1.2"/>
<line x1="300.8" y1="236.5" x2="311.6" y2="236.5" stroke="#c8102e" stroke-width="1.2"/>
<line x1="300.8" y1="271.3" x2="311.6" y2="271.3" stroke="#c8102e" stroke-width="1.2"/>
<rect x="304.2" y="228.6" width="4" height="4" fill="#c8102e" stroke="rgba(255,255,255,0.2)" stroke-width="0.8" paint-order="stroke"/>
<rect x="304.2" y="231" width="4" height="4" fill="#c8102e" stroke="rgba(255,255,255,0.2)" stroke-width="0.8" paint-order="stroke"/>
<rect x="304.2" y="238.8" width="4" height="4" fill="#c8102e" stroke="rgba(255,255,255,0.2)" stroke-width="0.8" paint-order="stroke"/>
<rect x="299.8" y="248.7" width="4" height="4" fill="#c8102e" stroke="rgba(255,255,255,0.2)" stroke-width="0.8" paint-order="stroke"/>
<rect x="308.2" y="246.9" width="4" height="4" fill="#c8102e" stroke="rgba(255,255,255,0.2)" stroke-width="0.8" paint-order="stroke"/>
<rect x="304.2" y="254" width="4" height="4" fill="#c8102e" stroke="rgba(255,255,255,0.2)" stroke-width="0.8" paint-order="stroke"/>
<rect x="304.2" y="262.1" width="4" height="4" fill="#c8102e" stroke="rgba(255,255,255,0.2)" stroke-width="0.8" paint-order="stroke"/>
<rect x="304.2" y="266.2" width="4" height="4" fill="#c8102e" stroke="rgba(255,255,255,0.2)" stroke-width="0.8" paint-order="stroke"/>
<rect x="304.2" y="284.1" width="4" height="4" fill="#c8102e" stroke="rgba(255,255,255,0.2)" stroke-width="0.8" paint-order="stroke"/>
<line x1="341.8" y1="266.4" x2="341.8" y2="296" stroke="#0d4a8a" stroke-width="1.2"/>
<line x1="336.4" y1="266.4" x2="347.2" y2="266.4" stroke="#0d4a8a" stroke-width="1.2"/>
<line x1="336.4" y1="296" x2="347.2" y2="296" stroke="#0d4a8a" stroke-width="1.2"/>
<circle cx="341.8" cy="264.5" r="2" fill="#0d4a8a" stroke="rgba(255,255,255,0.2)" stroke-width="0.8" paint-order="stroke"/>
<circle cx="337.8" cy="269.5" r="2" fill="#0d4a8a" stroke="rgba(255,255,255,0.2)" stroke-width="0.8" paint-order="stroke"/>
<circle cx="345.9" cy="270.2" r="2" fill="#0d4a8a" stroke="rgba(255,255,255,0.2)" stroke-width="0.8" paint-order="stroke"/>
<circle cx="341.8" cy="276.6" r="2" fill="#0d4a8a" stroke="rgba(255,255,255,0.2)" stroke-width="0.8" paint-order="stroke"/>
<circle cx="341.8" cy="283.9" r="2" fill="#0d4a8a" stroke="rgba(255,255,255,0.2)" stroke-width="0.8" paint-order="stroke"/>
<circle cx="337.8" cy="289.4" r="2" fill="#0d4a8a" stroke="rgba(255,255,255,0.2)" stroke-width="0.8" paint-order="stroke"/>
<circle cx="345.9" cy="289.4" r="2" fill="#0d4a8a" stroke="rgba(255,255,255,0.2)" stroke-width="0.8" paint-order="stroke"/>
<circle cx="341.8" cy="308.5" r="2" fill="#0d4a8a" stroke="rgba(255,255,255,0.2)" stroke-width="0.8" paint-order="stroke"/>
<rect x="438.1" y="249.1" width="23.1" height="98.8" fill="#e4889a"/>
<path d="M 438.6,347.9 V 249.6 H 460.7 V 347.9" fill="none" stroke="#eba2b0" stroke-width="1"/>
<rect x="474.1" y="277.6" width="22.4" height="70.3" fill="#87a8c5"/>
<path d="M 474.6,347.9 V 278.1 H 496 V 347.9" fill="none" stroke="#9fb9d2" stroke-width="1"/>
<line x1="425.7" y1="221.3" x2="425.7" y2="347.9" stroke="#111" stroke-width="1.3"/>
<line x1="421.1" y1="347.9" x2="425.7" y2="347.9" stroke="#111" stroke-width="1.2"/>
<text x="411.73" y="351.1" font-size="10.5" textLength="5.66" lengthAdjust="spacingAndGlyphs" fill="#1a1a1a" stroke="#1a1a1a" stroke-width="0.18">0</text>
<line x1="421.1" y1="326.9" x2="425.7" y2="326.9" stroke="#111" stroke-width="1.2"/>
<text x="406.07" y="330.1" font-size="10.5" textLength="11.33" lengthAdjust="spacingAndGlyphs" fill="#1a1a1a" stroke="#1a1a1a" stroke-width="0.18">30</text>
<line x1="421.1" y1="305.9" x2="425.7" y2="305.9" stroke="#111" stroke-width="1.2"/>
<text x="406.07" y="309.1" font-size="10.5" textLength="11.33" lengthAdjust="spacingAndGlyphs" fill="#1a1a1a" stroke="#1a1a1a" stroke-width="0.18">60</text>
<line x1="421.1" y1="284.9" x2="425.7" y2="284.9" stroke="#111" stroke-width="1.2"/>
<text x="406.07" y="288.1" font-size="10.5" textLength="11.33" lengthAdjust="spacingAndGlyphs" fill="#1a1a1a" stroke="#1a1a1a" stroke-width="0.18">90</text>
<line x1="421.1" y1="263.9" x2="425.7" y2="263.9" stroke="#111" stroke-width="1.2"/>
<text x="400.4" y="267.1" font-size="10.5" textLength="16.99" lengthAdjust="spacingAndGlyphs" fill="#1a1a1a" stroke="#1a1a1a" stroke-width="0.18">120</text>
<line x1="421.1" y1="242.9" x2="425.7" y2="242.9" stroke="#111" stroke-width="1.2"/>
<text x="400.4" y="246.1" font-size="10.5" textLength="16.99" lengthAdjust="spacingAndGlyphs" fill="#1a1a1a" stroke="#1a1a1a" stroke-width="0.18">150</text>
<line x1="421.1" y1="221.9" x2="425.7" y2="221.9" stroke="#111" stroke-width="1.2"/>
<text x="400.4" y="225.1" font-size="10.5" textLength="16.99" lengthAdjust="spacingAndGlyphs" fill="#1a1a1a" stroke="#1a1a1a" stroke-width="0.18">180</text>
<line x1="421.1" y1="347.9" x2="510.6" y2="347.9" stroke="#111" stroke-width="1.3"/>
<line x1="449.5" y1="347.9" x2="449.5" y2="351.7" stroke="#111" stroke-width="1.2"/>
<line x1="485" y1="347.9" x2="485" y2="351.7" stroke="#111" stroke-width="1.2"/>
<text transform="translate(392.6,334.2) rotate(-90)" x="-0.23" y="0" font-size="13.2" textLength="98.87" lengthAdjust="spacingAndGlyphs" fill="#1a1a1a" stroke="#1a1a1a" stroke-width="0.28">Time spent mobile (s)</text>
<text x="433.24" y="364.8" font-size="10.7" textLength="32.09" lengthAdjust="spacingAndGlyphs" fill="#1a1a1a" stroke="#1a1a1a" stroke-width="0.18">GVHD</text>
<text x="474.56" y="364.8" font-size="10.7" textLength="21.74" lengthAdjust="spacingAndGlyphs" fill="#1a1a1a" stroke="#1a1a1a" stroke-width="0.18">TCD</text>
<line x1="448.6" y1="219.5" x2="484" y2="219.5" stroke="#222" stroke-width="1.2"/>
<polygon points="466.5,212 467.09,213.58 468.78,213.66 467.46,214.71 467.91,216.34 466.5,215.41 465.09,216.34 465.54,214.71 464.22,213.66 465.91,213.58" fill="#111"/>
<line x1="449.5" y1="239.2" x2="449.5" y2="257.2" stroke="#c8102e" stroke-width="1.2"/>
<line x1="444.4" y1="239.2" x2="454.6" y2="239.2" stroke="#c8102e" stroke-width="1.2"/>
<line x1="444.4" y1="257.2" x2="454.6" y2="257.2" stroke="#c8102e" stroke-width="1.2"/>
<rect x="447" y="221.3" width="4" height="4" fill="#c8102e" stroke="rgba(255,255,255,0.2)" stroke-width="0.8" paint-order="stroke"/>
<rect x="447.3" y="226.9" width="4" height="4" fill="#c8102e" stroke="rgba(255,255,255,0.2)" stroke-width="0.8" paint-order="stroke"/>
<rect x="439.9" y="229.3" width="4" height="4" fill="#c8102e" stroke="rgba(255,255,255,0.2)" stroke-width="0.8" paint-order="stroke"/>
<rect x="454.6" y="228.4" width="4" height="4" fill="#c8102e" stroke="rgba(255,255,255,0.2)" stroke-width="0.8" paint-order="stroke"/>
<rect x="451.3" y="249" width="4" height="4" fill="#c8102e" stroke="rgba(255,255,255,0.2)" stroke-width="0.8" paint-order="stroke"/>
<rect x="443.2" y="251.7" width="4" height="4" fill="#c8102e" stroke="rgba(255,255,255,0.2)" stroke-width="0.8" paint-order="stroke"/>
<rect x="443.2" y="282.4" width="4" height="4" fill="#c8102e" stroke="rgba(255,255,255,0.2)" stroke-width="0.8" paint-order="stroke"/>
<rect x="451.3" y="281.1" width="4" height="4" fill="#c8102e" stroke="rgba(255,255,255,0.2)" stroke-width="0.8" paint-order="stroke"/>
<line x1="485.1" y1="268.2" x2="485.1" y2="285.7" stroke="#0d4a8a" stroke-width="1.2"/>
<line x1="480.3" y1="268.2" x2="489.9" y2="268.2" stroke="#0d4a8a" stroke-width="1.2"/>
<line x1="480.3" y1="285.7" x2="489.9" y2="285.7" stroke="#0d4a8a" stroke-width="1.2"/>
<circle cx="485.1" cy="232.7" r="2" fill="#0d4a8a" stroke="rgba(255,255,255,0.2)" stroke-width="0.8" paint-order="stroke"/>
<circle cx="485.1" cy="261" r="2" fill="#0d4a8a" stroke="rgba(255,255,255,0.2)" stroke-width="0.8" paint-order="stroke"/>
<circle cx="489" cy="269.7" r="2" fill="#0d4a8a" stroke="rgba(255,255,255,0.2)" stroke-width="0.8" paint-order="stroke"/>
<circle cx="481.4" cy="273.5" r="2" fill="#0d4a8a" stroke="rgba(255,255,255,0.2)" stroke-width="0.8" paint-order="stroke"/>
<circle cx="485.1" cy="281.1" r="2" fill="#0d4a8a" stroke="rgba(255,255,255,0.2)" stroke-width="0.8" paint-order="stroke"/>
<circle cx="481.4" cy="299" r="2" fill="#0d4a8a" stroke="rgba(255,255,255,0.2)" stroke-width="0.8" paint-order="stroke"/>
<circle cx="489" cy="299" r="2" fill="#0d4a8a" stroke="rgba(255,255,255,0.2)" stroke-width="0.8" paint-order="stroke"/>
<circle cx="485.1" cy="303.6" r="2" fill="#0d4a8a" stroke="rgba(255,255,255,0.2)" stroke-width="0.8" paint-order="stroke"/>
<text x="205.77" y="388.9" font-size="12.9" textLength="133.71" lengthAdjust="spacingAndGlyphs" fill="#1a1a1a" stroke="#1a1a1a" stroke-width="0.18">Active place avoidance</text>
<line x1="46.2" y1="393.2" x2="498.8" y2="393.2" stroke="#222" stroke-width="1.2"/>
<text x="15.13" y="481.1" font-size="10.5" font-weight="bold" textLength="21.09" lengthAdjust="spacingAndGlyphs" fill="#1a1a1a" stroke="#1a1a1a" stroke-width="0.18">D35</text>
<rect x="97.3" y="481" width="20.5" height="5.8" fill="#e9a0ae"/>
<path d="M 97.8,486.8 V 481.5 H 117.3 V 486.8" fill="none" stroke="#efb7c2" stroke-width="1"/>
<rect x="129" y="464.7" width="19.9" height="22.1" fill="#87a8c5"/>
<path d="M 129.5,486.8 V 465.2 H 148.4 V 486.8" fill="none" stroke="#9fb9d2" stroke-width="1"/>
<line x1="86.8" y1="431.9" x2="86.8" y2="541.1" stroke="#111" stroke-width="1.3"/>
<line x1="83" y1="432.5" x2="86.8" y2="432.5" stroke="#111" stroke-width="1.2"/>
<text x="62" y="435.7" font-size="10.5" textLength="16.99" lengthAdjust="spacingAndGlyphs" fill="#1a1a1a" stroke="#1a1a1a" stroke-width="0.18">100</text>
<line x1="83" y1="459.65" x2="86.8" y2="459.65" stroke="#111" stroke-width="1.2"/>
<text x="67.67" y="462.85" font-size="10.5" textLength="11.33" lengthAdjust="spacingAndGlyphs" fill="#1a1a1a" stroke="#1a1a1a" stroke-width="0.18">50</text>
<line x1="83" y1="486.8" x2="86.8" y2="486.8" stroke="#111" stroke-width="1.2"/>
<text x="73.33" y="490" font-size="10.5" textLength="5.66" lengthAdjust="spacingAndGlyphs" fill="#1a1a1a" stroke="#1a1a1a" stroke-width="0.18">0</text>
<line x1="83" y1="513.95" x2="86.8" y2="513.95" stroke="#111" stroke-width="1.2"/>
<text x="62" y="517.15" font-size="10.5" textLength="16.99" lengthAdjust="spacingAndGlyphs" fill="#1a1a1a" stroke="#1a1a1a" stroke-width="0.18">–50</text>
<line x1="83" y1="541.1" x2="86.8" y2="541.1" stroke="#111" stroke-width="1.2"/>
<text x="56.34" y="544.3" font-size="10.5" textLength="22.66" lengthAdjust="spacingAndGlyphs" fill="#1a1a1a" stroke="#1a1a1a" stroke-width="0.18">–100</text>
<line x1="83" y1="541.1" x2="160.3" y2="541.1" stroke="#111" stroke-width="1.3"/>
<line x1="107.2" y1="541.1" x2="107.2" y2="544.9" stroke="#111" stroke-width="1.2"/>
<line x1="138.9" y1="541.1" x2="138.9" y2="544.9" stroke="#111" stroke-width="1.2"/>
<text x="91.45" y="556.9" font-size="10.7" textLength="31.78" lengthAdjust="spacingAndGlyphs" fill="#1a1a1a" stroke="#1a1a1a" stroke-width="0.18">GVHD</text>
<text x="128.26" y="556.9" font-size="10.7" textLength="21.95" lengthAdjust="spacingAndGlyphs" fill="#1a1a1a" stroke="#1a1a1a" stroke-width="0.18">TCD</text>
<text transform="translate(50.5,554.8) rotate(-90)" x="-0.37" y="0" font-size="13.2" textLength="137.2" lengthAdjust="spacingAndGlyphs" fill="#1a1a1a" stroke="#1a1a1a" stroke-width="0.28">% improvement (Δ day 1 vs 5)</text>
<line x1="107.5" y1="474.3" x2="107.5" y2="486.8" stroke="#c8102e" stroke-width="1.2"/>
<line x1="103.4" y1="474.3" x2="111.6" y2="474.3" stroke="#c8102e" stroke-width="1.2"/>
<line x1="103.4" y1="486.8" x2="111.6" y2="486.8" stroke="#c8102e" stroke-width="1.2"/>
<rect x="105.45" y="442.75" width="4.1" height="4.1" fill="#c8102e" stroke="rgba(255,255,255,0.2)" stroke-width="0.8" paint-order="stroke"/>
<rect x="102.25" y="464.35" width="4.1" height="4.1" fill="#c8102e" stroke="rgba(255,255,255,0.2)" stroke-width="0.8" paint-order="stroke"/>
<rect x="109.15" y="467.05" width="4.1" height="4.1" fill="#c8102e" stroke="rgba(255,255,255,0.2)" stroke-width="0.8" paint-order="stroke"/>
<rect x="102.25" y="470.35" width="4.1" height="4.1" fill="#c8102e" stroke="rgba(255,255,255,0.2)" stroke-width="0.8" paint-order="stroke"/>
<rect x="102.25" y="477.55" width="4.1" height="4.1" fill="#c8102e" stroke="rgba(255,255,255,0.2)" stroke-width="0.8" paint-order="stroke"/>
<rect x="109.15" y="477.55" width="4.1" height="4.1" fill="#c8102e" stroke="rgba(255,255,255,0.2)" stroke-width="0.8" paint-order="stroke"/>
<rect x="105.45" y="481.55" width="4.1" height="4.1" fill="#c8102e" stroke="rgba(255,255,255,0.2)" stroke-width="0.8" paint-order="stroke"/>
<rect x="105.45" y="492.45" width="4.1" height="4.1" fill="#c8102e" stroke="rgba(255,255,255,0.2)" stroke-width="0.8" paint-order="stroke"/>
<rect x="105.45" y="500.75" width="4.1" height="4.1" fill="#c8102e" stroke="rgba(255,255,255,0.2)" stroke-width="0.8" paint-order="stroke"/>
<rect x="105.45" y="513.75" width="4.1" height="4.1" fill="#c8102e" stroke="rgba(255,255,255,0.2)" stroke-width="0.8" paint-order="stroke"/>
<line x1="138.7" y1="457.1" x2="138.7" y2="472.1" stroke="#0d4a8a" stroke-width="1.2"/>
<line x1="133.6" y1="457.1" x2="143.8" y2="457.1" stroke="#0d4a8a" stroke-width="1.2"/>
<line x1="133.6" y1="472.1" x2="143.8" y2="472.1" stroke="#0d4a8a" stroke-width="1.2"/>
<circle cx="135.7" cy="436.9" r="1.9" fill="#0d4a8a" stroke="rgba(255,255,255,0.2)" stroke-width="0.8" paint-order="stroke"/>
<circle cx="142.3" cy="439.5" r="1.9" fill="#0d4a8a" stroke="rgba(255,255,255,0.2)" stroke-width="0.8" paint-order="stroke"/>
<circle cx="138.7" cy="444.6" r="1.9" fill="#0d4a8a" stroke="rgba(255,255,255,0.2)" stroke-width="0.8" paint-order="stroke"/>
<circle cx="138.7" cy="449.2" r="1.9" fill="#0d4a8a" stroke="rgba(255,255,255,0.2)" stroke-width="0.8" paint-order="stroke"/>
<circle cx="135.7" cy="473" r="1.9" fill="#0d4a8a" stroke="rgba(255,255,255,0.2)" stroke-width="0.8" paint-order="stroke"/>
<circle cx="142.3" cy="473" r="1.9" fill="#0d4a8a" stroke="rgba(255,255,255,0.2)" stroke-width="0.8" paint-order="stroke"/>
<circle cx="138.7" cy="480.6" r="1.9" fill="#0d4a8a" stroke="rgba(255,255,255,0.2)" stroke-width="0.8" paint-order="stroke"/>
<circle cx="138.7" cy="485.6" r="1.9" fill="#0d4a8a" stroke="rgba(255,255,255,0.2)" stroke-width="0.8" paint-order="stroke"/>
<circle cx="138.7" cy="494.5" r="1.9" fill="#0d4a8a" stroke="rgba(255,255,255,0.2)" stroke-width="0.8" paint-order="stroke"/>
<line x1="83" y1="486.7" x2="160" y2="486.7" stroke="#000" stroke-width="1.7"/>
<line x1="89.4" y1="488.5" x2="160" y2="488.5" stroke="#000" stroke-width="1.7" stroke-dasharray="1.15 1.2"/>
<line x1="218.3" y1="433" x2="218.3" y2="542.8" stroke="#111" stroke-width="1.3"/>
<line x1="213.9" y1="542.8" x2="218.3" y2="542.8" stroke="#111" stroke-width="1.2"/>
<text x="204.83" y="546" font-size="10.5" textLength="5.66" lengthAdjust="spacingAndGlyphs" fill="#1a1a1a" stroke="#1a1a1a" stroke-width="0.18">0</text>
<line x1="213.9" y1="515.5" x2="218.3" y2="515.5" stroke="#111" stroke-width="1.2"/>
<text x="199.17" y="518.7" font-size="10.5" textLength="11.33" lengthAdjust="spacingAndGlyphs" fill="#1a1a1a" stroke="#1a1a1a" stroke-width="0.18">10</text>
<line x1="213.9" y1="488.2" x2="218.3" y2="488.2" stroke="#111" stroke-width="1.2"/>
<text x="199.17" y="491.4" font-size="10.5" textLength="11.33" lengthAdjust="spacingAndGlyphs" fill="#1a1a1a" stroke="#1a1a1a" stroke-width="0.18">20</text>
<line x1="213.9" y1="460.9" x2="218.3" y2="460.9" stroke="#111" stroke-width="1.2"/>
<text x="199.17" y="464.1" font-size="10.5" textLength="11.33" lengthAdjust="spacingAndGlyphs" fill="#1a1a1a" stroke="#1a1a1a" stroke-width="0.18">30</text>
<line x1="213.9" y1="433.6" x2="218.3" y2="433.6" stroke="#111" stroke-width="1.2"/>
<text x="199.17" y="436.8" font-size="10.5" textLength="11.33" lengthAdjust="spacingAndGlyphs" fill="#1a1a1a" stroke="#1a1a1a" stroke-width="0.18">40</text>
<line x1="213.9" y1="542.8" x2="328" y2="542.8" stroke="#111" stroke-width="1.3"/>
<line x1="228.9" y1="542.8" x2="228.9" y2="547" stroke="#111" stroke-width="1.2"/>
<text x="225.63" y="558.8" font-size="10.5" textLength="5.66" lengthAdjust="spacingAndGlyphs" fill="#1a1a1a" stroke="#1a1a1a" stroke-width="0.18">1</text>
<line x1="250.7" y1="542.8" x2="250.7" y2="547" stroke="#111" stroke-width="1.2"/>
<text x="247.57" y="558.8" font-size="10.5" textLength="5.66" lengthAdjust="spacingAndGlyphs" fill="#1a1a1a" stroke="#1a1a1a" stroke-width="0.18">2</text>
<line x1="272.5" y1="542.8" x2="272.5" y2="547" stroke="#111" stroke-width="1.2"/>
<text x="269.4" y="558.8" font-size="10.5" textLength="5.66" lengthAdjust="spacingAndGlyphs" fill="#1a1a1a" stroke="#1a1a1a" stroke-width="0.18">3</text>
<line x1="294.5" y1="542.8" x2="294.5" y2="547" stroke="#111" stroke-width="1.2"/>
<text x="291.4" y="558.8" font-size="10.5" textLength="5.66" lengthAdjust="spacingAndGlyphs" fill="#1a1a1a" stroke="#1a1a1a" stroke-width="0.18">4</text>
<line x1="316.2" y1="542.8" x2="316.2" y2="547" stroke="#111" stroke-width="1.2"/>
<text x="313.08" y="558.8" font-size="10.5" textLength="5.66" lengthAdjust="spacingAndGlyphs" fill="#1a1a1a" stroke="#1a1a1a" stroke-width="0.18">5</text>
<text x="264.1" y="576.4" font-size="12.5" textLength="17.32" lengthAdjust="spacingAndGlyphs" fill="#1a1a1a" stroke="#1a1a1a" stroke-width="0.18">Day</text>
<text transform="translate(189.9,502.9) rotate(-90)" x="-0.82" y="0" font-size="13" textLength="31.29" lengthAdjust="spacingAndGlyphs" fill="#1a1a1a" stroke="#1a1a1a" stroke-width="0.28">Entries</text>
<line x1="228.9" y1="454.9" x2="228.9" y2="458.2" stroke="#d0445f" stroke-width="1.1"/>
<line x1="226.8" y1="454.9" x2="231" y2="454.9" stroke="#d0445f" stroke-width="1.3"/>
<line x1="250.7" y1="453.8" x2="250.7" y2="459.5" stroke="#d0445f" stroke-width="1.1"/>
<line x1="248.6" y1="453.8" x2="252.8" y2="453.8" stroke="#d0445f" stroke-width="1.3"/>
<line x1="272.5" y1="451.2" x2="272.5" y2="460" stroke="#d0445f" stroke-width="1.1"/>
<line x1="270.4" y1="451.2" x2="274.6" y2="451.2" stroke="#d0445f" stroke-width="1.3"/>
<line x1="294.5" y1="450.3" x2="294.5" y2="459.5" stroke="#d0445f" stroke-width="1.1"/>
<line x1="292.4" y1="450.3" x2="296.6" y2="450.3" stroke="#d0445f" stroke-width="1.3"/>
<line x1="316.2" y1="460" x2="316.2" y2="468.5" stroke="#d0445f" stroke-width="1.1"/>
<line x1="314.1" y1="460" x2="318.3" y2="460" stroke="#d0445f" stroke-width="1.3"/>
<line x1="228.9" y1="466.5" x2="228.9" y2="476.6" stroke="#3f76ab" stroke-width="1.1"/>
<line x1="226.8" y1="466.5" x2="231" y2="466.5" stroke="#3f76ab" stroke-width="1.3"/>
<line x1="250.7" y1="468.8" x2="250.7" y2="479.2" stroke="#3f76ab" stroke-width="1.1"/>
<line x1="248.6" y1="468.8" x2="252.8" y2="468.8" stroke="#3f76ab" stroke-width="1.3"/>
<line x1="272.5" y1="485.8" x2="272.5" y2="496.9" stroke="#3f76ab" stroke-width="1.1"/>
<line x1="270.4" y1="485.8" x2="274.6" y2="485.8" stroke="#3f76ab" stroke-width="1.3"/>
<line x1="294.5" y1="477.3" x2="294.5" y2="490" stroke="#3f76ab" stroke-width="1.1"/>
<line x1="292.4" y1="477.3" x2="296.6" y2="477.3" stroke="#3f76ab" stroke-width="1.3"/>
<line x1="316.2" y1="486.5" x2="316.2" y2="498.8" stroke="#3f76ab" stroke-width="1.1"/>
<line x1="314.1" y1="486.5" x2="318.3" y2="486.5" stroke="#3f76ab" stroke-width="1.3"/>
<polyline points="228.9,458.2 250.7,459.5 272.5,460 294.5,459.5 316.2,468.5" fill="none" stroke="#c8102e" stroke-width="1.9" stroke-linejoin="round"/>
<rect x="226.95" y="456.25" width="3.9" height="3.9" fill="#c8102e" stroke="rgba(255,255,255,0.2)" stroke-width="0.8" paint-order="stroke"/>
<rect x="248.75" y="457.55" width="3.9" height="3.9" fill="#c8102e" stroke="rgba(255,255,255,0.2)" stroke-width="0.8" paint-order="stroke"/>
<rect x="270.55" y="458.05" width="3.9" height="3.9" fill="#c8102e" stroke="rgba(255,255,255,0.2)" stroke-width="0.8" paint-order="stroke"/>
<rect x="292.55" y="457.55" width="3.9" height="3.9" fill="#c8102e" stroke="rgba(255,255,255,0.2)" stroke-width="0.8" paint-order="stroke"/>
<rect x="314.25" y="466.55" width="3.9" height="3.9" fill="#c8102e" stroke="rgba(255,255,255,0.2)" stroke-width="0.8" paint-order="stroke"/>
<polyline points="228.9,476.6 250.7,479.2 272.5,496.9 294.5,490 316.2,498.8" fill="none" stroke="#0d4a8a" stroke-width="1.9" stroke-linejoin="round"/>
<circle cx="228.9" cy="476.6" r="2.1" fill="#0d4a8a" stroke="rgba(255,255,255,0.2)" stroke-width="0.8" paint-order="stroke"/>
<circle cx="250.7" cy="479.2" r="2.1" fill="#0d4a8a" stroke="rgba(255,255,255,0.2)" stroke-width="0.8" paint-order="stroke"/>
<circle cx="272.5" cy="496.9" r="2.1" fill="#0d4a8a" stroke="rgba(255,255,255,0.2)" stroke-width="0.8" paint-order="stroke"/>
<circle cx="294.5" cy="490" r="2.1" fill="#0d4a8a" stroke="rgba(255,255,255,0.2)" stroke-width="0.8" paint-order="stroke"/>
<circle cx="316.2" cy="498.8" r="2.1" fill="#0d4a8a" stroke="rgba(255,255,255,0.2)" stroke-width="0.8" paint-order="stroke"/>
<polygon points="272.5,443.2 273.09,444.78 274.78,444.86 273.46,445.91 273.91,447.54 272.5,446.61 271.09,447.54 271.54,445.91 270.22,444.86 271.91,444.78" fill="#111"/>
<line x1="392.5" y1="429.9" x2="392.5" y2="542.1" stroke="#111" stroke-width="1.3"/>
<line x1="388.1" y1="542.1" x2="392.5" y2="542.1" stroke="#111" stroke-width="1.2"/>
<text x="377.03" y="545.3" font-size="10.5" textLength="5.66" lengthAdjust="spacingAndGlyphs" fill="#1a1a1a" stroke="#1a1a1a" stroke-width="0.18">0</text>
<line x1="388.1" y1="519.78" x2="392.5" y2="519.78" stroke="#111" stroke-width="1.2"/>
<text x="365.7" y="522.98" font-size="10.5" textLength="16.99" lengthAdjust="spacingAndGlyphs" fill="#1a1a1a" stroke="#1a1a1a" stroke-width="0.18">200</text>
<line x1="388.1" y1="497.46" x2="392.5" y2="497.46" stroke="#111" stroke-width="1.2"/>
<text x="365.7" y="500.66" font-size="10.5" textLength="16.99" lengthAdjust="spacingAndGlyphs" fill="#1a1a1a" stroke="#1a1a1a" stroke-width="0.18">400</text>
<line x1="388.1" y1="475.14" x2="392.5" y2="475.14" stroke="#111" stroke-width="1.2"/>
<text x="365.7" y="478.34" font-size="10.5" textLength="16.99" lengthAdjust="spacingAndGlyphs" fill="#1a1a1a" stroke="#1a1a1a" stroke-width="0.18">600</text>
<line x1="388.1" y1="452.82" x2="392.5" y2="452.82" stroke="#111" stroke-width="1.2"/>
<text x="365.7" y="456.02" font-size="10.5" textLength="16.99" lengthAdjust="spacingAndGlyphs" fill="#1a1a1a" stroke="#1a1a1a" stroke-width="0.18">800</text>
<line x1="388.1" y1="430.5" x2="392.5" y2="430.5" stroke="#111" stroke-width="1.2"/>
<text x="360.04" y="433.7" font-size="10.5" textLength="22.66" lengthAdjust="spacingAndGlyphs" fill="#1a1a1a" stroke="#1a1a1a" stroke-width="0.18">1000</text>
<line x1="388.1" y1="542.1" x2="504.5" y2="542.1" stroke="#111" stroke-width="1.3"/>
<line x1="403" y1="542.1" x2="403" y2="546.3" stroke="#111" stroke-width="1.2"/>
<text x="399.73" y="558.7" font-size="10.5" textLength="5.66" lengthAdjust="spacingAndGlyphs" fill="#1a1a1a" stroke="#1a1a1a" stroke-width="0.18">1</text>
<line x1="425.5" y1="542.1" x2="425.5" y2="546.3" stroke="#111" stroke-width="1.2"/>
<text x="422.37" y="558.7" font-size="10.5" textLength="5.66" lengthAdjust="spacingAndGlyphs" fill="#1a1a1a" stroke="#1a1a1a" stroke-width="0.18">2</text>
<line x1="448" y1="542.1" x2="448" y2="546.3" stroke="#111" stroke-width="1.2"/>
<text x="444.9" y="558.7" font-size="10.5" textLength="5.66" lengthAdjust="spacingAndGlyphs" fill="#1a1a1a" stroke="#1a1a1a" stroke-width="0.18">3</text>
<line x1="470.5" y1="542.1" x2="470.5" y2="546.3" stroke="#111" stroke-width="1.2"/>
<text x="467.4" y="558.7" font-size="10.5" textLength="5.66" lengthAdjust="spacingAndGlyphs" fill="#1a1a1a" stroke="#1a1a1a" stroke-width="0.18">4</text>
<line x1="493" y1="542.1" x2="493" y2="546.3" stroke="#111" stroke-width="1.2"/>
<text x="489.88" y="558.7" font-size="10.5" textLength="5.66" lengthAdjust="spacingAndGlyphs" fill="#1a1a1a" stroke="#1a1a1a" stroke-width="0.18">5</text>
<text x="438.99" y="576.6" font-size="12.5" textLength="17.53" lengthAdjust="spacingAndGlyphs" fill="#1a1a1a" stroke="#1a1a1a" stroke-width="0.18">Day</text>
<text transform="translate(353,546.3) rotate(-90)" x="-0.86" y="0" font-size="13" textLength="122.81" lengthAdjust="spacingAndGlyphs" fill="#1a1a1a" stroke="#1a1a1a" stroke-width="0.28">Maximum time avoided (s)</text>
<line x1="493" y1="522" x2="493" y2="525.75" stroke="#d0445f" stroke-width="1.1"/>
<line x1="490.9" y1="522" x2="495.1" y2="522" stroke="#d0445f" stroke-width="1.3"/>
<line x1="403" y1="517.5" x2="403" y2="522" stroke="#3f76ab" stroke-width="1.1"/>
<line x1="400.9" y1="517.5" x2="405.1" y2="517.5" stroke="#3f76ab" stroke-width="1.3"/>
<line x1="425.5" y1="507" x2="425.5" y2="514.5" stroke="#3f76ab" stroke-width="1.1"/>
<line x1="423.4" y1="507" x2="427.6" y2="507" stroke="#3f76ab" stroke-width="1.3"/>
<line x1="448" y1="482.5" x2="448" y2="497.5" stroke="#3f76ab" stroke-width="1.1"/>
<line x1="445.9" y1="482.5" x2="450.1" y2="482.5" stroke="#3f76ab" stroke-width="1.3"/>
<line x1="470.5" y1="492.5" x2="470.5" y2="506.25" stroke="#3f76ab" stroke-width="1.1"/>
<line x1="468.4" y1="492.5" x2="472.6" y2="492.5" stroke="#3f76ab" stroke-width="1.3"/>
<line x1="493" y1="483" x2="493" y2="496" stroke="#3f76ab" stroke-width="1.1"/>
<line x1="490.9" y1="483" x2="495.1" y2="483" stroke="#3f76ab" stroke-width="1.3"/>
<polyline points="403,533.25 425.5,528.5 448,527.5 470.5,528 493,525.75" fill="none" stroke="#c8102e" stroke-width="1.9" stroke-linejoin="round"/>
<rect x="401.05" y="531.3" width="3.9" height="3.9" fill="#c8102e" stroke="rgba(255,255,255,0.2)" stroke-width="0.8" paint-order="stroke"/>
<rect x="423.55" y="526.55" width="3.9" height="3.9" fill="#c8102e" stroke="rgba(255,255,255,0.2)" stroke-width="0.8" paint-order="stroke"/>
<rect x="446.05" y="525.55" width="3.9" height="3.9" fill="#c8102e" stroke="rgba(255,255,255,0.2)" stroke-width="0.8" paint-order="stroke"/>
<rect x="468.55" y="526.05" width="3.9" height="3.9" fill="#c8102e" stroke="rgba(255,255,255,0.2)" stroke-width="0.8" paint-order="stroke"/>
<rect x="491.05" y="523.8" width="3.9" height="3.9" fill="#c8102e" stroke="rgba(255,255,255,0.2)" stroke-width="0.8" paint-order="stroke"/>
<polyline points="403,522 425.5,514.5 448,497.5 470.5,506.25 493,496" fill="none" stroke="#0d4a8a" stroke-width="1.9" stroke-linejoin="round"/>
<circle cx="403" cy="522" r="2.1" fill="#0d4a8a" stroke="rgba(255,255,255,0.2)" stroke-width="0.8" paint-order="stroke"/>
<circle cx="425.5" cy="514.5" r="2.1" fill="#0d4a8a" stroke="rgba(255,255,255,0.2)" stroke-width="0.8" paint-order="stroke"/>
<circle cx="448" cy="497.5" r="2.1" fill="#0d4a8a" stroke="rgba(255,255,255,0.2)" stroke-width="0.8" paint-order="stroke"/>
<circle cx="470.5" cy="506.25" r="2.1" fill="#0d4a8a" stroke="rgba(255,255,255,0.2)" stroke-width="0.8" paint-order="stroke"/>
<circle cx="493" cy="496" r="2.1" fill="#0d4a8a" stroke="rgba(255,255,255,0.2)" stroke-width="0.8" paint-order="stroke"/>
<polygon points="448,475.2 448.59,476.78 450.28,476.86 448.96,477.91 449.41,479.54 448,478.61 446.59,479.54 447.04,477.91 445.72,476.86 447.41,476.78" fill="#111"/>
<polygon points="493,476 493.59,477.58 495.28,477.66 493.96,478.71 494.41,480.34 493,479.41 491.59,480.34 492.04,478.71 490.72,477.66 492.41,477.58" fill="#111"/>
<text x="14.92" y="650.4" font-size="10.5" font-weight="bold" textLength="21.46" lengthAdjust="spacingAndGlyphs" fill="#1a1a1a" stroke="#1a1a1a" stroke-width="0.18">D70</text>
<rect x="96.1" y="655" width="20.8" height="18.6" fill="#e4889a"/>
<path d="M 96.6,673.6 V 655.5 H 116.4 V 673.6" fill="none" stroke="#eba2b0" stroke-width="1"/>
<rect x="127.7" y="625.8" width="20.1" height="47.8" fill="#87a8c5"/>
<path d="M 128.2,673.6 V 626.3 H 147.3 V 673.6" fill="none" stroke="#9fb9d2" stroke-width="1"/>
<line x1="85.7" y1="599.6" x2="85.7" y2="710.6" stroke="#111" stroke-width="1.3"/>
<line x1="81.1" y1="600.2" x2="85.7" y2="600.2" stroke="#111" stroke-width="1.2"/>
<text x="59.8" y="603.4" font-size="10.5" textLength="16.99" lengthAdjust="spacingAndGlyphs" fill="#1a1a1a" stroke="#1a1a1a" stroke-width="0.18">100</text>
<line x1="81.1" y1="637" x2="85.7" y2="637" stroke="#111" stroke-width="1.2"/>
<text x="65.47" y="640.2" font-size="10.5" textLength="11.33" lengthAdjust="spacingAndGlyphs" fill="#1a1a1a" stroke="#1a1a1a" stroke-width="0.18">50</text>
<line x1="81.1" y1="673.8" x2="85.7" y2="673.8" stroke="#111" stroke-width="1.2"/>
<text x="71.13" y="677" font-size="10.5" textLength="5.66" lengthAdjust="spacingAndGlyphs" fill="#1a1a1a" stroke="#1a1a1a" stroke-width="0.18">0</text>
<line x1="81.1" y1="710.6" x2="85.7" y2="710.6" stroke="#111" stroke-width="1.2"/>
<text x="59.8" y="713.8" font-size="10.5" textLength="16.99" lengthAdjust="spacingAndGlyphs" fill="#1a1a1a" stroke="#1a1a1a" stroke-width="0.18">–50</text>
<line x1="81.1" y1="710.6" x2="159.5" y2="710.6" stroke="#111" stroke-width="1.3"/>
<line x1="81.1" y1="673.8" x2="159.5" y2="673.8" stroke="#111" stroke-width="1.4"/>
<line x1="106.2" y1="710.6" x2="106.2" y2="714.2" stroke="#111" stroke-width="1.2"/>
<line x1="137" y1="710.6" x2="137" y2="714.2" stroke="#111" stroke-width="1.2"/>
<text x="90.35" y="726.4" font-size="10.7" textLength="31.57" lengthAdjust="spacingAndGlyphs" fill="#1a1a1a" stroke="#1a1a1a" stroke-width="0.18">GVHD</text>
<text x="126.67" y="726.4" font-size="10.7" textLength="21.12" lengthAdjust="spacingAndGlyphs" fill="#1a1a1a" stroke="#1a1a1a" stroke-width="0.18">TCD</text>
<text transform="translate(50.5,722.9) rotate(-90)" x="-0.36" y="0" font-size="13.2" textLength="137" lengthAdjust="spacingAndGlyphs" fill="#1a1a1a" stroke="#1a1a1a" stroke-width="0.28">% improvement (Δ day 1 vs 5)</text>
<line x1="106.5" y1="595.4" x2="140.3" y2="595.4" stroke="#222" stroke-width="1.2"/>
<polygon points="121.22,588.2 121.82,589.78 123.51,589.86 122.18,590.91 122.64,592.54 121.22,591.61 119.81,592.54 120.27,590.91 118.94,589.86 120.63,589.78" fill="#111"/>
<polygon points="125.97,588.2 126.57,589.78 128.26,589.86 126.93,590.91 127.39,592.54 125.97,591.61 124.56,592.54 125.02,590.91 123.69,589.86 125.38,589.78" fill="#111"/>
<line x1="106.5" y1="648.4" x2="106.5" y2="661.4" stroke="#c8102e" stroke-width="1.2"/>
<line x1="101.1" y1="648.4" x2="111.9" y2="648.4" stroke="#c8102e" stroke-width="1.2"/>
<line x1="101.1" y1="661.4" x2="111.9" y2="661.4" stroke="#c8102e" stroke-width="1.2"/>
<rect x="104.45" y="632.45" width="4.1" height="4.1" fill="#c8102e" stroke="rgba(255,255,255,0.2)" stroke-width="0.8" paint-order="stroke"/>
<rect x="100.95" y="637.05" width="4.1" height="4.1" fill="#c8102e" stroke="rgba(255,255,255,0.2)" stroke-width="0.8" paint-order="stroke"/>
<rect x="107.55" y="639.65" width="4.1" height="4.1" fill="#c8102e" stroke="rgba(255,255,255,0.2)" stroke-width="0.8" paint-order="stroke"/>
<rect x="104.05" y="643.95" width="4.1" height="4.1" fill="#c8102e" stroke="rgba(255,255,255,0.2)" stroke-width="0.8" paint-order="stroke"/>
<rect x="100.95" y="651.45" width="4.1" height="4.1" fill="#c8102e" stroke="rgba(255,255,255,0.2)" stroke-width="0.8" paint-order="stroke"/>
<rect x="100.95" y="655.85" width="4.1" height="4.1" fill="#c8102e" stroke="rgba(255,255,255,0.2)" stroke-width="0.8" paint-order="stroke"/>
<rect x="107.55" y="654.25" width="4.1" height="4.1" fill="#c8102e" stroke="rgba(255,255,255,0.2)" stroke-width="0.8" paint-order="stroke"/>
<rect x="104.45" y="664.55" width="4.1" height="4.1" fill="#c8102e" stroke="rgba(255,255,255,0.2)" stroke-width="0.8" paint-order="stroke"/>
<rect x="104.45" y="695.95" width="4.1" height="4.1" fill="#c8102e" stroke="rgba(255,255,255,0.2)" stroke-width="0.8" paint-order="stroke"/>
<line x1="137.5" y1="618.5" x2="137.5" y2="632.1" stroke="#0d4a8a" stroke-width="1.2"/>
<line x1="132.4" y1="618.5" x2="142.6" y2="618.5" stroke="#0d4a8a" stroke-width="1.2"/>
<line x1="132.4" y1="632.1" x2="142.6" y2="632.1" stroke="#0d4a8a" stroke-width="1.2"/>
<circle cx="137.5" cy="600.4" r="1.9" fill="#0d4a8a" stroke="rgba(255,255,255,0.2)" stroke-width="0.8" paint-order="stroke"/>
<circle cx="137.5" cy="604.2" r="1.9" fill="#0d4a8a" stroke="rgba(255,255,255,0.2)" stroke-width="0.8" paint-order="stroke"/>
<circle cx="131.1" cy="609.4" r="1.9" fill="#0d4a8a" stroke="rgba(255,255,255,0.2)" stroke-width="0.8" paint-order="stroke"/>
<circle cx="144.3" cy="611" r="1.9" fill="#0d4a8a" stroke="rgba(255,255,255,0.2)" stroke-width="0.8" paint-order="stroke"/>
<circle cx="137.5" cy="613.1" r="1.9" fill="#0d4a8a" stroke="rgba(255,255,255,0.2)" stroke-width="0.8" paint-order="stroke"/>
<circle cx="137.5" cy="621.7" r="1.9" fill="#0d4a8a" stroke="rgba(255,255,255,0.2)" stroke-width="0.8" paint-order="stroke"/>
<circle cx="137.5" cy="634.4" r="1.9" fill="#0d4a8a" stroke="rgba(255,255,255,0.2)" stroke-width="0.8" paint-order="stroke"/>
<circle cx="137.5" cy="644.9" r="1.9" fill="#0d4a8a" stroke="rgba(255,255,255,0.2)" stroke-width="0.8" paint-order="stroke"/>
<circle cx="134.6" cy="658.2" r="1.9" fill="#0d4a8a" stroke="rgba(255,255,255,0.2)" stroke-width="0.8" paint-order="stroke"/>
<circle cx="141" cy="657.4" r="1.9" fill="#0d4a8a" stroke="rgba(255,255,255,0.2)" stroke-width="0.8" paint-order="stroke"/>
<line x1="216.3" y1="597.8" x2="216.3" y2="708.4" stroke="#111" stroke-width="1.3"/>
<line x1="211.9" y1="708.4" x2="216.3" y2="708.4" stroke="#111" stroke-width="1.2"/>
<text x="203.13" y="711.6" font-size="10.5" textLength="5.66" lengthAdjust="spacingAndGlyphs" fill="#1a1a1a" stroke="#1a1a1a" stroke-width="0.18">0</text>
<line x1="211.9" y1="680.9" x2="216.3" y2="680.9" stroke="#111" stroke-width="1.2"/>
<text x="197.47" y="684.1" font-size="10.5" textLength="11.33" lengthAdjust="spacingAndGlyphs" fill="#1a1a1a" stroke="#1a1a1a" stroke-width="0.18">10</text>
<line x1="211.9" y1="653.4" x2="216.3" y2="653.4" stroke="#111" stroke-width="1.2"/>
<text x="197.47" y="656.6" font-size="10.5" textLength="11.33" lengthAdjust="spacingAndGlyphs" fill="#1a1a1a" stroke="#1a1a1a" stroke-width="0.18">20</text>
<line x1="211.9" y1="625.9" x2="216.3" y2="625.9" stroke="#111" stroke-width="1.2"/>
<text x="197.47" y="629.1" font-size="10.5" textLength="11.33" lengthAdjust="spacingAndGlyphs" fill="#1a1a1a" stroke="#1a1a1a" stroke-width="0.18">30</text>
<line x1="211.9" y1="598.4" x2="216.3" y2="598.4" stroke="#111" stroke-width="1.2"/>
<text x="197.47" y="601.6" font-size="10.5" textLength="11.33" lengthAdjust="spacingAndGlyphs" fill="#1a1a1a" stroke="#1a1a1a" stroke-width="0.18">40</text>
<line x1="211.9" y1="708.4" x2="326.9" y2="708.4" stroke="#111" stroke-width="1.3"/>
<line x1="227" y1="708.4" x2="227" y2="712.6" stroke="#111" stroke-width="1.2"/>
<text x="223.73" y="724.5" font-size="10.5" textLength="5.66" lengthAdjust="spacingAndGlyphs" fill="#1a1a1a" stroke="#1a1a1a" stroke-width="0.18">1</text>
<line x1="249.25" y1="708.4" x2="249.25" y2="712.6" stroke="#111" stroke-width="1.2"/>
<text x="246.12" y="724.5" font-size="10.5" textLength="5.66" lengthAdjust="spacingAndGlyphs" fill="#1a1a1a" stroke="#1a1a1a" stroke-width="0.18">2</text>
<line x1="271.25" y1="708.4" x2="271.25" y2="712.6" stroke="#111" stroke-width="1.2"/>
<text x="268.15" y="724.5" font-size="10.5" textLength="5.66" lengthAdjust="spacingAndGlyphs" fill="#1a1a1a" stroke="#1a1a1a" stroke-width="0.18">3</text>
<line x1="293.25" y1="708.4" x2="293.25" y2="712.6" stroke="#111" stroke-width="1.2"/>
<text x="290.15" y="724.5" font-size="10.5" textLength="5.66" lengthAdjust="spacingAndGlyphs" fill="#1a1a1a" stroke="#1a1a1a" stroke-width="0.18">4</text>
<line x1="315.25" y1="708.4" x2="315.25" y2="712.6" stroke="#111" stroke-width="1.2"/>
<text x="312.13" y="724.5" font-size="10.5" textLength="5.66" lengthAdjust="spacingAndGlyphs" fill="#1a1a1a" stroke="#1a1a1a" stroke-width="0.18">5</text>
<text x="262.69" y="742.4" font-size="12.5" textLength="17.53" lengthAdjust="spacingAndGlyphs" fill="#1a1a1a" stroke="#1a1a1a" stroke-width="0.18">Day</text>
<text transform="translate(188,668.2) rotate(-90)" x="-0.82" y="0" font-size="13" textLength="30.98" lengthAdjust="spacingAndGlyphs" fill="#1a1a1a" stroke="#1a1a1a" stroke-width="0.28">Entries</text>
<line x1="227" y1="617.5" x2="227" y2="626.25" stroke="#d0445f" stroke-width="1.1"/>
<line x1="224.9" y1="617.5" x2="229.1" y2="617.5" stroke="#d0445f" stroke-width="1.3"/>
<line x1="249.25" y1="625" x2="249.25" y2="632.5" stroke="#d0445f" stroke-width="1.1"/>
<line x1="247.15" y1="625" x2="251.35" y2="625" stroke="#d0445f" stroke-width="1.3"/>
<line x1="271.25" y1="626.75" x2="271.25" y2="633.75" stroke="#d0445f" stroke-width="1.1"/>
<line x1="269.15" y1="626.75" x2="273.35" y2="626.75" stroke="#d0445f" stroke-width="1.3"/>
<line x1="293.25" y1="643" x2="293.25" y2="650" stroke="#d0445f" stroke-width="1.1"/>
<line x1="291.15" y1="643" x2="295.35" y2="643" stroke="#d0445f" stroke-width="1.3"/>
<line x1="315.25" y1="646.25" x2="315.25" y2="652" stroke="#d0445f" stroke-width="1.1"/>
<line x1="313.15" y1="646.25" x2="317.35" y2="646.25" stroke="#d0445f" stroke-width="1.3"/>
<line x1="227" y1="644.25" x2="227" y2="656.75" stroke="#3f76ab" stroke-width="1.1"/>
<line x1="224.9" y1="644.25" x2="229.1" y2="644.25" stroke="#3f76ab" stroke-width="1.3"/>
<line x1="249.25" y1="651.25" x2="249.25" y2="660" stroke="#3f76ab" stroke-width="1.1"/>
<line x1="247.15" y1="651.25" x2="251.35" y2="651.25" stroke="#3f76ab" stroke-width="1.3"/>
<line x1="271.25" y1="664.5" x2="271.25" y2="675" stroke="#3f76ab" stroke-width="1.1"/>
<line x1="269.15" y1="664.5" x2="273.35" y2="664.5" stroke="#3f76ab" stroke-width="1.3"/>
<line x1="293.25" y1="667.5" x2="293.25" y2="678" stroke="#3f76ab" stroke-width="1.1"/>
<line x1="291.15" y1="667.5" x2="295.35" y2="667.5" stroke="#3f76ab" stroke-width="1.3"/>
<line x1="315.25" y1="674.5" x2="315.25" y2="683.5" stroke="#3f76ab" stroke-width="1.1"/>
<line x1="313.15" y1="674.5" x2="317.35" y2="674.5" stroke="#3f76ab" stroke-width="1.3"/>
<polyline points="227,626.25 249.25,632.5 271.25,633.75 293.25,650 315.25,652" fill="none" stroke="#c8102e" stroke-width="1.9" stroke-linejoin="round"/>
<rect x="225.05" y="624.3" width="3.9" height="3.9" fill="#c8102e" stroke="rgba(255,255,255,0.2)" stroke-width="0.8" paint-order="stroke"/>
<rect x="247.3" y="630.55" width="3.9" height="3.9" fill="#c8102e" stroke="rgba(255,255,255,0.2)" stroke-width="0.8" paint-order="stroke"/>
<rect x="269.3" y="631.8" width="3.9" height="3.9" fill="#c8102e" stroke="rgba(255,255,255,0.2)" stroke-width="0.8" paint-order="stroke"/>
<rect x="291.3" y="648.05" width="3.9" height="3.9" fill="#c8102e" stroke="rgba(255,255,255,0.2)" stroke-width="0.8" paint-order="stroke"/>
<rect x="313.3" y="650.05" width="3.9" height="3.9" fill="#c8102e" stroke="rgba(255,255,255,0.2)" stroke-width="0.8" paint-order="stroke"/>
<polyline points="227,656.75 249.25,660 271.25,675 293.25,678 315.25,683.5" fill="none" stroke="#0d4a8a" stroke-width="1.9" stroke-linejoin="round"/>
<circle cx="227" cy="656.75" r="2.1" fill="#0d4a8a" stroke="rgba(255,255,255,0.2)" stroke-width="0.8" paint-order="stroke"/>
<circle cx="249.25" cy="660" r="2.1" fill="#0d4a8a" stroke="rgba(255,255,255,0.2)" stroke-width="0.8" paint-order="stroke"/>
<circle cx="271.25" cy="675" r="2.1" fill="#0d4a8a" stroke="rgba(255,255,255,0.2)" stroke-width="0.8" paint-order="stroke"/>
<circle cx="293.25" cy="678" r="2.1" fill="#0d4a8a" stroke="rgba(255,255,255,0.2)" stroke-width="0.8" paint-order="stroke"/>
<circle cx="315.25" cy="683.5" r="2.1" fill="#0d4a8a" stroke="rgba(255,255,255,0.2)" stroke-width="0.8" paint-order="stroke"/>
<polygon points="271.25,619.2 271.84,620.78 273.53,620.86 272.21,621.91 272.66,623.54 271.25,622.61 269.84,623.54 270.29,621.91 268.97,620.86 270.66,620.78" fill="#111"/>
<line x1="390.5" y1="595.2" x2="390.5" y2="708.4" stroke="#111" stroke-width="1.3"/>
<line x1="386.1" y1="708.4" x2="390.5" y2="708.4" stroke="#111" stroke-width="1.2"/>
<text x="376.33" y="711.6" font-size="10.5" textLength="5.66" lengthAdjust="spacingAndGlyphs" fill="#1a1a1a" stroke="#1a1a1a" stroke-width="0.18">0</text>
<line x1="386.1" y1="685.88" x2="390.5" y2="685.88" stroke="#111" stroke-width="1.2"/>
<text x="365" y="689.08" font-size="10.5" textLength="16.99" lengthAdjust="spacingAndGlyphs" fill="#1a1a1a" stroke="#1a1a1a" stroke-width="0.18">200</text>
<line x1="386.1" y1="663.36" x2="390.5" y2="663.36" stroke="#111" stroke-width="1.2"/>
<text x="365" y="666.56" font-size="10.5" textLength="16.99" lengthAdjust="spacingAndGlyphs" fill="#1a1a1a" stroke="#1a1a1a" stroke-width="0.18">400</text>
<line x1="386.1" y1="640.84" x2="390.5" y2="640.84" stroke="#111" stroke-width="1.2"/>
<text x="365" y="644.04" font-size="10.5" textLength="16.99" lengthAdjust="spacingAndGlyphs" fill="#1a1a1a" stroke="#1a1a1a" stroke-width="0.18">600</text>
<line x1="386.1" y1="618.32" x2="390.5" y2="618.32" stroke="#111" stroke-width="1.2"/>
<text x="365" y="621.52" font-size="10.5" textLength="16.99" lengthAdjust="spacingAndGlyphs" fill="#1a1a1a" stroke="#1a1a1a" stroke-width="0.18">800</text>
<line x1="386.1" y1="595.8" x2="390.5" y2="595.8" stroke="#111" stroke-width="1.2"/>
<text x="359.34" y="599" font-size="10.5" textLength="22.66" lengthAdjust="spacingAndGlyphs" fill="#1a1a1a" stroke="#1a1a1a" stroke-width="0.18">1000</text>
<line x1="386.1" y1="708.4" x2="504.5" y2="708.4" stroke="#111" stroke-width="1.3"/>
<line x1="402" y1="708.4" x2="402" y2="712.6" stroke="#111" stroke-width="1.2"/>
<text x="398.73" y="724.5" font-size="10.5" textLength="5.66" lengthAdjust="spacingAndGlyphs" fill="#1a1a1a" stroke="#1a1a1a" stroke-width="0.18">1</text>
<line x1="424.5" y1="708.4" x2="424.5" y2="712.6" stroke="#111" stroke-width="1.2"/>
<text x="421.37" y="724.5" font-size="10.5" textLength="5.66" lengthAdjust="spacingAndGlyphs" fill="#1a1a1a" stroke="#1a1a1a" stroke-width="0.18">2</text>
<line x1="447" y1="708.4" x2="447" y2="712.6" stroke="#111" stroke-width="1.2"/>
<text x="443.9" y="724.5" font-size="10.5" textLength="5.66" lengthAdjust="spacingAndGlyphs" fill="#1a1a1a" stroke="#1a1a1a" stroke-width="0.18">3</text>
<line x1="470" y1="708.4" x2="470" y2="712.6" stroke="#111" stroke-width="1.2"/>
<text x="466.9" y="724.5" font-size="10.5" textLength="5.66" lengthAdjust="spacingAndGlyphs" fill="#1a1a1a" stroke="#1a1a1a" stroke-width="0.18">4</text>
<line x1="493" y1="708.4" x2="493" y2="712.6" stroke="#111" stroke-width="1.2"/>
<text x="489.88" y="724.5" font-size="10.5" textLength="5.66" lengthAdjust="spacingAndGlyphs" fill="#1a1a1a" stroke="#1a1a1a" stroke-width="0.18">5</text>
<text x="438.39" y="742.4" font-size="12.5" textLength="17.63" lengthAdjust="spacingAndGlyphs" fill="#1a1a1a" stroke="#1a1a1a" stroke-width="0.18">Day</text>
<text transform="translate(352,712.8) rotate(-90)" x="-0.86" y="0" font-size="13" textLength="122.71" lengthAdjust="spacingAndGlyphs" fill="#1a1a1a" stroke="#1a1a1a" stroke-width="0.28">Maximum time avoided (s)</text>
<line x1="402" y1="688" x2="402" y2="693" stroke="#d0445f" stroke-width="1.1"/>
<line x1="399.9" y1="688" x2="404.1" y2="688" stroke="#d0445f" stroke-width="1.3"/>
<line x1="470" y1="671.75" x2="470" y2="679.25" stroke="#d0445f" stroke-width="1.1"/>
<line x1="467.9" y1="671.75" x2="472.1" y2="671.75" stroke="#d0445f" stroke-width="1.3"/>
<line x1="493" y1="682.5" x2="493" y2="685.75" stroke="#d0445f" stroke-width="1.1"/>
<line x1="490.9" y1="682.5" x2="495.1" y2="682.5" stroke="#d0445f" stroke-width="1.3"/>
<line x1="402" y1="670.5" x2="402" y2="676.75" stroke="#3f76ab" stroke-width="1.1"/>
<line x1="399.9" y1="670.5" x2="404.1" y2="670.5" stroke="#3f76ab" stroke-width="1.3"/>
<line x1="424.5" y1="668.75" x2="424.5" y2="675" stroke="#3f76ab" stroke-width="1.1"/>
<line x1="422.4" y1="668.75" x2="426.6" y2="668.75" stroke="#3f76ab" stroke-width="1.3"/>
<line x1="447" y1="646.25" x2="447" y2="658.25" stroke="#3f76ab" stroke-width="1.1"/>
<line x1="444.9" y1="646.25" x2="449.1" y2="646.25" stroke="#3f76ab" stroke-width="1.3"/>
<line x1="470" y1="634.25" x2="470" y2="646.75" stroke="#3f76ab" stroke-width="1.1"/>
<line x1="467.9" y1="634.25" x2="472.1" y2="634.25" stroke="#3f76ab" stroke-width="1.3"/>
<line x1="493" y1="610" x2="493" y2="626.25" stroke="#3f76ab" stroke-width="1.1"/>
<line x1="490.9" y1="610" x2="495.1" y2="610" stroke="#3f76ab" stroke-width="1.3"/>
<polyline points="402,693 424.5,694.25 447,691.75 470,679.25 493,685.75" fill="none" stroke="#c8102e" stroke-width="1.9" stroke-linejoin="round"/>
<rect x="400.05" y="691.05" width="3.9" height="3.9" fill="#c8102e" stroke="rgba(255,255,255,0.2)" stroke-width="0.8" paint-order="stroke"/>
<rect x="422.55" y="692.3" width="3.9" height="3.9" fill="#c8102e" stroke="rgba(255,255,255,0.2)" stroke-width="0.8" paint-order="stroke"/>
<rect x="445.05" y="689.8" width="3.9" height="3.9" fill="#c8102e" stroke="rgba(255,255,255,0.2)" stroke-width="0.8" paint-order="stroke"/>
<rect x="468.05" y="677.3" width="3.9" height="3.9" fill="#c8102e" stroke="rgba(255,255,255,0.2)" stroke-width="0.8" paint-order="stroke"/>
<rect x="491.05" y="683.8" width="3.9" height="3.9" fill="#c8102e" stroke="rgba(255,255,255,0.2)" stroke-width="0.8" paint-order="stroke"/>
<polyline points="402,676.75 424.5,675 447,658.25 470,646.75 493,626.25" fill="none" stroke="#0d4a8a" stroke-width="1.9" stroke-linejoin="round"/>
<circle cx="402" cy="676.75" r="2.1" fill="#0d4a8a" stroke="rgba(255,255,255,0.2)" stroke-width="0.8" paint-order="stroke"/>
<circle cx="424.5" cy="675" r="2.1" fill="#0d4a8a" stroke="rgba(255,255,255,0.2)" stroke-width="0.8" paint-order="stroke"/>
<circle cx="447" cy="658.25" r="2.1" fill="#0d4a8a" stroke="rgba(255,255,255,0.2)" stroke-width="0.8" paint-order="stroke"/>
<circle cx="470" cy="646.75" r="2.1" fill="#0d4a8a" stroke="rgba(255,255,255,0.2)" stroke-width="0.8" paint-order="stroke"/>
<circle cx="493" cy="626.25" r="2.1" fill="#0d4a8a" stroke="rgba(255,255,255,0.2)" stroke-width="0.8" paint-order="stroke"/>
<polygon points="447,638.7 447.59,640.28 449.28,640.36 447.96,641.41 448.41,643.04 447,642.11 445.59,643.04 446.04,641.41 444.72,640.36 446.41,640.28" fill="#111"/>
<polygon points="485.88,602.7 486.47,604.28 488.16,604.36 486.83,605.41 487.29,607.04 485.88,606.11 484.46,607.04 484.92,605.41 483.59,604.36 485.28,604.28" fill="#111"/>
<polygon points="490.62,602.7 491.22,604.28 492.91,604.36 491.58,605.41 492.04,607.04 490.62,606.11 489.21,607.04 489.67,605.41 488.34,604.36 490.03,604.28" fill="#111"/>
<polygon points="495.38,602.7 495.97,604.28 497.66,604.36 496.33,605.41 496.79,607.04 495.38,606.11 493.96,607.04 494.42,605.41 493.09,604.36 494.78,604.28" fill="#111"/>
<polygon points="500.12,602.7 500.72,604.28 502.41,604.36 501.08,605.41 501.54,607.04 500.12,606.11 498.71,607.04 499.17,605.41 497.84,604.36 499.53,604.28" fill="#111"/>
<rect x="0" y="0" width="520" height="1.15" fill="#000"/>
<rect x="0" y="0" width="1.1" height="755" fill="#000"/>
<rect x="518.2" y="0" width="1.8" height="755" fill="#000"/>
<rect x="0" y="752.7" width="520" height="2.3" fill="#000"/>
</svg>
</body></html>
